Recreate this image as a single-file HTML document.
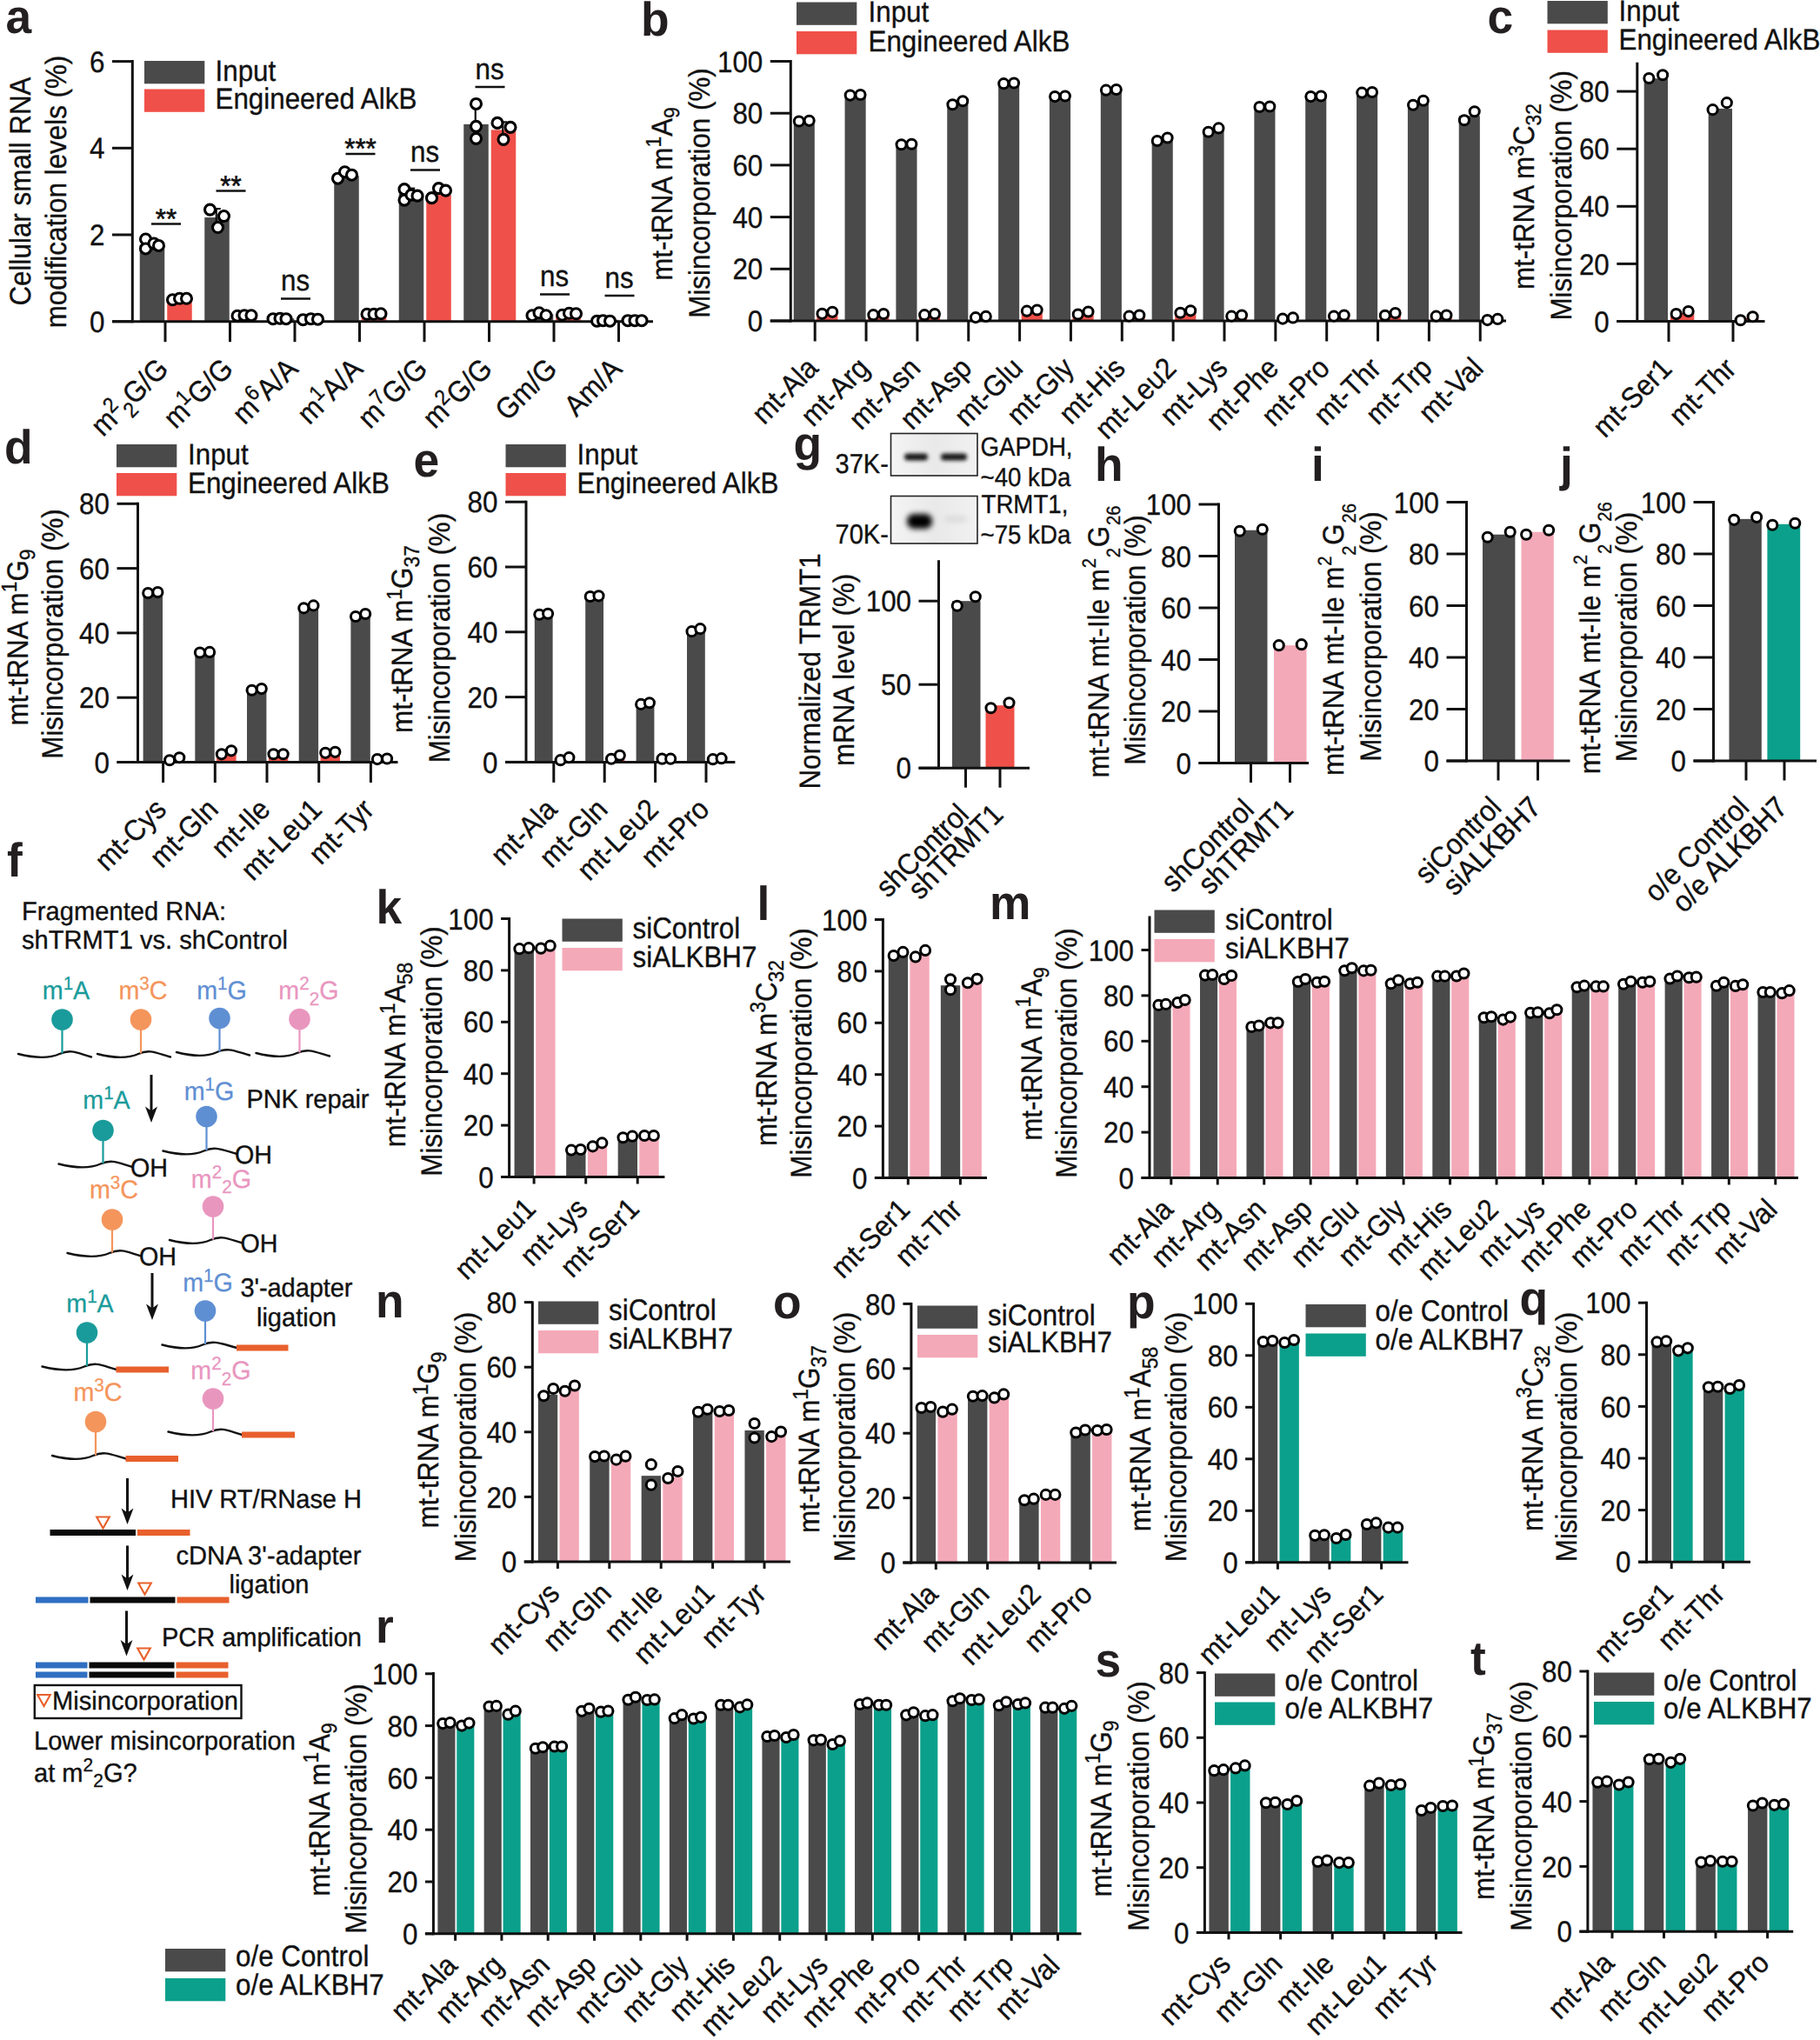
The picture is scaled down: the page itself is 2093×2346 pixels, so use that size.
<!DOCTYPE html>
<html lang="en"><head><meta charset="utf-8"><title>Figure</title>
<style>html,body{margin:0;padding:0;background:#fff}body{width:2093px;height:2346px;overflow:hidden}svg{display:block}</style>
</head><body>
<svg width="2093" height="2346" viewBox="0 0 2093 2346" font-family="'Liberation Sans', sans-serif" text-rendering="geometricPrecision">
<rect x="0.00" y="0.00" width="2093.00" height="2346.00" fill="#fff"/>
<g>
<text transform="translate(6.50 37.50) scale(0.97 1)" font-size="55.00" text-anchor="start" fill="#231f20" font-weight="bold">a</text>
<rect x="160.75" y="281.47" width="28.50" height="88.23" fill="#4a4a4a"/>
<rect x="192.25" y="344.77" width="28.50" height="24.93" fill="#ef5049"/>
<rect x="235.25" y="250.06" width="28.50" height="119.64" fill="#4a4a4a"/>
<rect x="266.75" y="363.22" width="28.50" height="6.48" fill="#ef5049"/>
<rect x="309.75" y="366.21" width="28.50" height="3.49" fill="#4a4a4a"/>
<rect x="341.25" y="366.21" width="28.50" height="3.49" fill="#ef5049"/>
<rect x="384.25" y="202.20" width="28.50" height="167.50" fill="#4a4a4a"/>
<rect x="415.75" y="362.22" width="28.50" height="7.48" fill="#ef5049"/>
<rect x="458.75" y="222.64" width="28.50" height="147.06" fill="#4a4a4a"/>
<rect x="490.25" y="224.14" width="28.50" height="145.56" fill="#ef5049"/>
<rect x="533.25" y="142.88" width="28.50" height="226.82" fill="#4a4a4a"/>
<rect x="564.75" y="149.36" width="28.50" height="220.34" fill="#ef5049"/>
<rect x="607.75" y="361.23" width="28.50" height="8.47" fill="#4a4a4a"/>
<rect x="639.25" y="361.23" width="28.50" height="8.47" fill="#ef5049"/>
<rect x="682.25" y="367.71" width="28.50" height="1.99" fill="#4a4a4a"/>
<rect x="713.75" y="367.71" width="28.50" height="1.99" fill="#ef5049"/>
<line x1="152.30" y1="69.00" x2="152.30" y2="371.20" stroke="#111" stroke-width="3" stroke-linecap="butt"/>
<line x1="129.00" y1="369.70" x2="751.00" y2="369.70" stroke="#111" stroke-width="3" stroke-linecap="butt"/>
<line x1="129.00" y1="369.70" x2="152.30" y2="369.70" stroke="#111" stroke-width="3" stroke-linecap="butt"/>
<text transform="translate(120.50 381.87) scale(0.922 1)" font-size="34.00" text-anchor="end" fill="#111" stroke="#111" stroke-width="0.35">0</text>
<line x1="129.00" y1="270.00" x2="152.30" y2="270.00" stroke="#111" stroke-width="3" stroke-linecap="butt"/>
<text transform="translate(120.50 282.17) scale(0.922 1)" font-size="34.00" text-anchor="end" fill="#111" stroke="#111" stroke-width="0.35">2</text>
<line x1="129.00" y1="170.30" x2="152.30" y2="170.30" stroke="#111" stroke-width="3" stroke-linecap="butt"/>
<text transform="translate(120.50 182.47) scale(0.922 1)" font-size="34.00" text-anchor="end" fill="#111" stroke="#111" stroke-width="0.35">4</text>
<line x1="129.00" y1="70.60" x2="152.30" y2="70.60" stroke="#111" stroke-width="3" stroke-linecap="butt"/>
<text transform="translate(120.50 82.77) scale(0.922 1)" font-size="34.00" text-anchor="end" fill="#111" stroke="#111" stroke-width="0.35">6</text>
<line x1="190.00" y1="369.70" x2="190.00" y2="393.20" stroke="#111" stroke-width="3" stroke-linecap="butt"/>
<line x1="264.50" y1="369.70" x2="264.50" y2="393.20" stroke="#111" stroke-width="3" stroke-linecap="butt"/>
<line x1="339.00" y1="369.70" x2="339.00" y2="393.20" stroke="#111" stroke-width="3" stroke-linecap="butt"/>
<line x1="413.50" y1="369.70" x2="413.50" y2="393.20" stroke="#111" stroke-width="3" stroke-linecap="butt"/>
<line x1="488.00" y1="369.70" x2="488.00" y2="393.20" stroke="#111" stroke-width="3" stroke-linecap="butt"/>
<line x1="562.50" y1="369.70" x2="562.50" y2="393.20" stroke="#111" stroke-width="3" stroke-linecap="butt"/>
<line x1="637.00" y1="369.70" x2="637.00" y2="393.20" stroke="#111" stroke-width="3" stroke-linecap="butt"/>
<line x1="711.50" y1="369.70" x2="711.50" y2="393.20" stroke="#111" stroke-width="3" stroke-linecap="butt"/>
<line x1="248.75" y1="240.09" x2="248.75" y2="260.03" stroke="#111" stroke-width="2.2" stroke-linecap="butt"/>
<line x1="243.75" y1="240.09" x2="253.75" y2="240.09" stroke="#111" stroke-width="2.2" stroke-linecap="butt"/>
<line x1="243.75" y1="260.03" x2="253.75" y2="260.03" stroke="#111" stroke-width="2.2" stroke-linecap="butt"/>
<line x1="546.75" y1="119.45" x2="546.75" y2="161.33" stroke="#111" stroke-width="2.2" stroke-linecap="butt"/>
<line x1="541.75" y1="119.45" x2="551.75" y2="119.45" stroke="#111" stroke-width="2.2" stroke-linecap="butt"/>
<line x1="541.75" y1="161.33" x2="551.75" y2="161.33" stroke="#111" stroke-width="2.2" stroke-linecap="butt"/>
<line x1="578.25" y1="140.39" x2="578.25" y2="158.34" stroke="#111" stroke-width="2.2" stroke-linecap="butt"/>
<line x1="573.25" y1="140.39" x2="583.25" y2="140.39" stroke="#111" stroke-width="2.2" stroke-linecap="butt"/>
<line x1="573.25" y1="158.34" x2="583.25" y2="158.34" stroke="#111" stroke-width="2.2" stroke-linecap="butt"/>
<line x1="174.25" y1="276.48" x2="174.25" y2="286.45" stroke="#111" stroke-width="2.2" stroke-linecap="butt"/>
<line x1="169.25" y1="276.48" x2="179.25" y2="276.48" stroke="#111" stroke-width="2.2" stroke-linecap="butt"/>
<line x1="169.25" y1="286.45" x2="179.25" y2="286.45" stroke="#111" stroke-width="2.2" stroke-linecap="butt"/>
<line x1="472.25" y1="216.66" x2="472.25" y2="228.62" stroke="#111" stroke-width="2.2" stroke-linecap="butt"/>
<line x1="467.25" y1="216.66" x2="477.25" y2="216.66" stroke="#111" stroke-width="2.2" stroke-linecap="butt"/>
<line x1="467.25" y1="228.62" x2="477.25" y2="228.62" stroke="#111" stroke-width="2.2" stroke-linecap="butt"/>
<circle cx="167.50" cy="274.99" r="6.00" fill="#fff" stroke="#000" stroke-width="3.1"/>
<circle cx="167.50" cy="285.95" r="6.00" fill="#fff" stroke="#000" stroke-width="3.1"/>
<circle cx="177.00" cy="279.97" r="6.00" fill="#fff" stroke="#000" stroke-width="3.1"/>
<circle cx="182.50" cy="282.46" r="6.00" fill="#fff" stroke="#000" stroke-width="3.1"/>
<circle cx="198.50" cy="344.77" r="6.00" fill="#fff" stroke="#000" stroke-width="3.1"/>
<circle cx="206.50" cy="343.28" r="6.00" fill="#fff" stroke="#000" stroke-width="3.1"/>
<circle cx="214.50" cy="343.28" r="6.00" fill="#fff" stroke="#000" stroke-width="3.1"/>
<circle cx="241.50" cy="241.09" r="6.00" fill="#fff" stroke="#000" stroke-width="3.1"/>
<circle cx="250.50" cy="261.53" r="6.00" fill="#fff" stroke="#000" stroke-width="3.1"/>
<circle cx="257.50" cy="248.56" r="6.00" fill="#fff" stroke="#000" stroke-width="3.1"/>
<circle cx="273.00" cy="363.22" r="6.00" fill="#fff" stroke="#000" stroke-width="3.1"/>
<circle cx="281.00" cy="362.72" r="6.00" fill="#fff" stroke="#000" stroke-width="3.1"/>
<circle cx="289.00" cy="362.72" r="6.00" fill="#fff" stroke="#000" stroke-width="3.1"/>
<circle cx="314.00" cy="366.71" r="6.00" fill="#fff" stroke="#000" stroke-width="3.1"/>
<circle cx="322.00" cy="366.21" r="6.00" fill="#fff" stroke="#000" stroke-width="3.1"/>
<circle cx="329.00" cy="366.71" r="6.00" fill="#fff" stroke="#000" stroke-width="3.1"/>
<circle cx="348.50" cy="367.71" r="6.00" fill="#fff" stroke="#000" stroke-width="3.1"/>
<circle cx="357.50" cy="366.71" r="6.00" fill="#fff" stroke="#000" stroke-width="3.1"/>
<circle cx="365.50" cy="367.21" r="6.00" fill="#fff" stroke="#000" stroke-width="3.1"/>
<circle cx="388.50" cy="205.19" r="6.00" fill="#fff" stroke="#000" stroke-width="3.1"/>
<circle cx="396.50" cy="197.72" r="6.00" fill="#fff" stroke="#000" stroke-width="3.1"/>
<circle cx="404.50" cy="201.21" r="6.00" fill="#fff" stroke="#000" stroke-width="3.1"/>
<circle cx="422.00" cy="361.23" r="6.00" fill="#fff" stroke="#000" stroke-width="3.1"/>
<circle cx="430.00" cy="361.23" r="6.00" fill="#fff" stroke="#000" stroke-width="3.1"/>
<circle cx="438.00" cy="360.73" r="6.00" fill="#fff" stroke="#000" stroke-width="3.1"/>
<circle cx="465.00" cy="217.66" r="6.00" fill="#fff" stroke="#000" stroke-width="3.1"/>
<circle cx="465.00" cy="230.12" r="6.00" fill="#fff" stroke="#000" stroke-width="3.1"/>
<circle cx="473.00" cy="224.14" r="6.00" fill="#fff" stroke="#000" stroke-width="3.1"/>
<circle cx="480.00" cy="225.13" r="6.00" fill="#fff" stroke="#000" stroke-width="3.1"/>
<circle cx="496.50" cy="227.63" r="6.00" fill="#fff" stroke="#000" stroke-width="3.1"/>
<circle cx="504.50" cy="216.66" r="6.00" fill="#fff" stroke="#000" stroke-width="3.1"/>
<circle cx="512.50" cy="219.15" r="6.00" fill="#fff" stroke="#000" stroke-width="3.1"/>
<circle cx="547.50" cy="119.45" r="6.00" fill="#fff" stroke="#000" stroke-width="3.1"/>
<circle cx="547.50" cy="145.37" r="6.00" fill="#fff" stroke="#000" stroke-width="3.1"/>
<circle cx="547.50" cy="159.33" r="6.00" fill="#fff" stroke="#000" stroke-width="3.1"/>
<circle cx="572.00" cy="141.39" r="6.00" fill="#fff" stroke="#000" stroke-width="3.1"/>
<circle cx="579.00" cy="160.33" r="6.00" fill="#fff" stroke="#000" stroke-width="3.1"/>
<circle cx="587.00" cy="146.37" r="6.00" fill="#fff" stroke="#000" stroke-width="3.1"/>
<circle cx="612.00" cy="362.72" r="6.00" fill="#fff" stroke="#000" stroke-width="3.1"/>
<circle cx="620.00" cy="359.73" r="6.00" fill="#fff" stroke="#000" stroke-width="3.1"/>
<circle cx="628.00" cy="362.72" r="6.00" fill="#fff" stroke="#000" stroke-width="3.1"/>
<circle cx="646.50" cy="362.22" r="6.00" fill="#fff" stroke="#000" stroke-width="3.1"/>
<circle cx="654.50" cy="360.23" r="6.00" fill="#fff" stroke="#000" stroke-width="3.1"/>
<circle cx="662.50" cy="360.73" r="6.00" fill="#fff" stroke="#000" stroke-width="3.1"/>
<circle cx="686.50" cy="369.20" r="6.00" fill="#fff" stroke="#000" stroke-width="3.1"/>
<circle cx="693.50" cy="368.70" r="6.00" fill="#fff" stroke="#000" stroke-width="3.1"/>
<circle cx="701.50" cy="369.20" r="6.00" fill="#fff" stroke="#000" stroke-width="3.1"/>
<circle cx="722.00" cy="368.70" r="6.00" fill="#fff" stroke="#000" stroke-width="3.1"/>
<circle cx="730.00" cy="368.70" r="6.00" fill="#fff" stroke="#000" stroke-width="3.1"/>
<circle cx="738.00" cy="368.70" r="6.00" fill="#fff" stroke="#000" stroke-width="3.1"/>
<line x1="174.00" y1="257.50" x2="208.00" y2="257.50" stroke="#111" stroke-width="2.6" stroke-linecap="butt"/>
<text transform="translate(191.00 262.50) scale(0.95 1)" font-size="33.00" text-anchor="middle" fill="#111" stroke="#111" stroke-width="0.6">**</text>
<line x1="248.50" y1="219.50" x2="282.50" y2="219.50" stroke="#111" stroke-width="2.6" stroke-linecap="butt"/>
<text transform="translate(265.50 224.50) scale(0.95 1)" font-size="33.00" text-anchor="middle" fill="#111" stroke="#111" stroke-width="0.6">**</text>
<line x1="323.00" y1="343.50" x2="357.00" y2="343.50" stroke="#111" stroke-width="2.6" stroke-linecap="butt"/>
<text transform="translate(339.50 334.00) scale(0.922 1)" font-size="34.00" text-anchor="middle" fill="#111" stroke="#111" stroke-width="0.35">ns</text>
<line x1="397.50" y1="177.00" x2="431.50" y2="177.00" stroke="#111" stroke-width="2.6" stroke-linecap="butt"/>
<text transform="translate(414.50 182.00) scale(0.95 1)" font-size="33.00" text-anchor="middle" fill="#111" stroke="#111" stroke-width="0.6">***</text>
<line x1="472.00" y1="195.50" x2="506.00" y2="195.50" stroke="#111" stroke-width="2.6" stroke-linecap="butt"/>
<text transform="translate(488.50 186.00) scale(0.922 1)" font-size="34.00" text-anchor="middle" fill="#111" stroke="#111" stroke-width="0.35">ns</text>
<line x1="546.50" y1="100.00" x2="580.50" y2="100.00" stroke="#111" stroke-width="2.6" stroke-linecap="butt"/>
<text transform="translate(563.00 90.50) scale(0.922 1)" font-size="34.00" text-anchor="middle" fill="#111" stroke="#111" stroke-width="0.35">ns</text>
<line x1="621.00" y1="338.50" x2="655.00" y2="338.50" stroke="#111" stroke-width="2.6" stroke-linecap="butt"/>
<text transform="translate(637.50 329.00) scale(0.922 1)" font-size="34.00" text-anchor="middle" fill="#111" stroke="#111" stroke-width="0.35">ns</text>
<line x1="695.50" y1="340.00" x2="729.50" y2="340.00" stroke="#111" stroke-width="2.6" stroke-linecap="butt"/>
<text transform="translate(712.00 330.50) scale(0.922 1)" font-size="34.00" text-anchor="middle" fill="#111" stroke="#111" stroke-width="0.35">ns</text>
<rect x="166.00" y="70.00" width="69.30" height="26.30" fill="#4a4a4a"/>
<rect x="166.00" y="102.50" width="69.30" height="26.30" fill="#ef5049"/>
<text transform="translate(247.50 92.50) scale(0.922 1)" font-size="34.00" text-anchor="start" fill="#111" stroke="#111" stroke-width="0.35">Input</text>
<text transform="translate(247.50 125.00) scale(0.922 1)" font-size="34.00" text-anchor="start" fill="#111" stroke="#111" stroke-width="0.35">Engineered AlkB</text>
<text transform="translate(35.20 220.00) rotate(-90) scale(0.922 1)" font-size="34.00" text-anchor="middle" fill="#111" stroke="#111" stroke-width="0.35">Cellular small RNA</text>
<text transform="translate(76.00 220.50) rotate(-90) scale(0.922 1)" font-size="34.00" text-anchor="middle" fill="#111" stroke="#111" stroke-width="0.35">modification levels (%)</text>
<text transform="translate(195.50 426.20) rotate(-45) scale(0.922 1)" font-size="34.00" text-anchor="end" fill="#111" stroke="#111" stroke-width="0.35"><tspan dy="-0.00" font-size="34.00">m</tspan><tspan dy="-12.24" font-size="24.82">2</tspan><tspan dy="20.74" font-size="24.82">2</tspan><tspan dy="-8.50" font-size="34.00">G/G</tspan></text>
<text transform="translate(270.00 426.20) rotate(-45) scale(0.922 1)" font-size="34.00" text-anchor="end" fill="#111" stroke="#111" stroke-width="0.35"><tspan dy="-0.00" font-size="34.00">m</tspan><tspan dy="-12.24" font-size="24.82">1</tspan><tspan dy="12.24" font-size="34.00">G/G</tspan></text>
<text transform="translate(344.50 426.20) rotate(-45) scale(0.922 1)" font-size="34.00" text-anchor="end" fill="#111" stroke="#111" stroke-width="0.35"><tspan dy="-0.00" font-size="34.00">m</tspan><tspan dy="-12.24" font-size="24.82">6</tspan><tspan dy="12.24" font-size="34.00">A/A</tspan></text>
<text transform="translate(419.00 426.20) rotate(-45) scale(0.922 1)" font-size="34.00" text-anchor="end" fill="#111" stroke="#111" stroke-width="0.35"><tspan dy="-0.00" font-size="34.00">m</tspan><tspan dy="-12.24" font-size="24.82">1</tspan><tspan dy="12.24" font-size="34.00">A/A</tspan></text>
<text transform="translate(493.50 426.20) rotate(-45) scale(0.922 1)" font-size="34.00" text-anchor="end" fill="#111" stroke="#111" stroke-width="0.35"><tspan dy="-0.00" font-size="34.00">m</tspan><tspan dy="-12.24" font-size="24.82">7</tspan><tspan dy="12.24" font-size="34.00">G/G</tspan></text>
<text transform="translate(568.00 426.20) rotate(-45) scale(0.922 1)" font-size="34.00" text-anchor="end" fill="#111" stroke="#111" stroke-width="0.35"><tspan dy="-0.00" font-size="34.00">m</tspan><tspan dy="-12.24" font-size="24.82">2</tspan><tspan dy="12.24" font-size="34.00">G/G</tspan></text>
<text transform="translate(642.50 426.20) rotate(-45) scale(0.922 1)" font-size="34.00" text-anchor="end" fill="#111" stroke="#111" stroke-width="0.35">Gm/G</text>
<text transform="translate(717.00 426.20) rotate(-45) scale(0.922 1)" font-size="34.00" text-anchor="end" fill="#111" stroke="#111" stroke-width="0.35">Am/A</text>
</g>
<g>
<text transform="translate(737.00 41.00) scale(0.97 1)" font-size="55.00" text-anchor="start" fill="#231f20" font-weight="bold">b</text>
<rect x="912.70" y="139.16" width="24.10" height="229.84" fill="#4a4a4a"/>
<rect x="939.30" y="360.05" width="24.10" height="8.96" fill="#ef5049"/>
<rect x="971.55" y="109.31" width="24.10" height="259.69" fill="#4a4a4a"/>
<rect x="998.15" y="361.54" width="24.10" height="7.46" fill="#ef5049"/>
<rect x="1030.40" y="166.02" width="24.10" height="202.98" fill="#4a4a4a"/>
<rect x="1057.00" y="361.54" width="24.10" height="7.46" fill="#ef5049"/>
<rect x="1089.25" y="118.26" width="24.10" height="250.74" fill="#4a4a4a"/>
<rect x="1115.85" y="364.52" width="24.10" height="4.48" fill="#ef5049"/>
<rect x="1148.10" y="95.87" width="24.10" height="273.13" fill="#4a4a4a"/>
<rect x="1174.70" y="357.06" width="24.10" height="11.94" fill="#ef5049"/>
<rect x="1206.95" y="110.80" width="24.10" height="258.20" fill="#4a4a4a"/>
<rect x="1233.55" y="360.05" width="24.10" height="8.96" fill="#ef5049"/>
<rect x="1265.80" y="103.34" width="24.10" height="265.66" fill="#4a4a4a"/>
<rect x="1292.40" y="363.03" width="24.10" height="5.97" fill="#ef5049"/>
<rect x="1324.65" y="160.05" width="24.10" height="208.95" fill="#4a4a4a"/>
<rect x="1351.25" y="358.55" width="24.10" height="10.45" fill="#ef5049"/>
<rect x="1383.50" y="149.60" width="24.10" height="219.40" fill="#4a4a4a"/>
<rect x="1410.10" y="363.03" width="24.10" height="5.97" fill="#ef5049"/>
<rect x="1442.35" y="122.74" width="24.10" height="246.26" fill="#4a4a4a"/>
<rect x="1468.95" y="366.01" width="24.10" height="2.98" fill="#ef5049"/>
<rect x="1501.20" y="110.80" width="24.10" height="258.20" fill="#4a4a4a"/>
<rect x="1527.80" y="363.03" width="24.10" height="5.97" fill="#ef5049"/>
<rect x="1560.05" y="106.32" width="24.10" height="262.68" fill="#4a4a4a"/>
<rect x="1586.65" y="361.54" width="24.10" height="7.46" fill="#ef5049"/>
<rect x="1618.90" y="118.26" width="24.10" height="250.74" fill="#4a4a4a"/>
<rect x="1645.50" y="363.03" width="24.10" height="5.97" fill="#ef5049"/>
<rect x="1677.75" y="133.19" width="24.10" height="235.81" fill="#4a4a4a"/>
<rect x="1704.35" y="367.51" width="24.10" height="1.49" fill="#ef5049"/>
<line x1="909.30" y1="69.00" x2="909.30" y2="370.50" stroke="#111" stroke-width="3" stroke-linecap="butt"/>
<line x1="885.80" y1="369.00" x2="1732.00" y2="369.00" stroke="#111" stroke-width="3" stroke-linecap="butt"/>
<line x1="885.80" y1="369.00" x2="909.30" y2="369.00" stroke="#111" stroke-width="3" stroke-linecap="butt"/>
<text transform="translate(877.30 381.17) scale(0.922 1)" font-size="34.00" text-anchor="end" fill="#111" stroke="#111" stroke-width="0.35">0</text>
<line x1="885.80" y1="309.30" x2="909.30" y2="309.30" stroke="#111" stroke-width="3" stroke-linecap="butt"/>
<text transform="translate(877.30 321.47) scale(0.922 1)" font-size="34.00" text-anchor="end" fill="#111" stroke="#111" stroke-width="0.35">20</text>
<line x1="885.80" y1="249.60" x2="909.30" y2="249.60" stroke="#111" stroke-width="3" stroke-linecap="butt"/>
<text transform="translate(877.30 261.77) scale(0.922 1)" font-size="34.00" text-anchor="end" fill="#111" stroke="#111" stroke-width="0.35">40</text>
<line x1="885.80" y1="189.90" x2="909.30" y2="189.90" stroke="#111" stroke-width="3" stroke-linecap="butt"/>
<text transform="translate(877.30 202.07) scale(0.922 1)" font-size="34.00" text-anchor="end" fill="#111" stroke="#111" stroke-width="0.35">60</text>
<line x1="885.80" y1="130.20" x2="909.30" y2="130.20" stroke="#111" stroke-width="3" stroke-linecap="butt"/>
<text transform="translate(877.30 142.37) scale(0.922 1)" font-size="34.00" text-anchor="end" fill="#111" stroke="#111" stroke-width="0.35">80</text>
<line x1="885.80" y1="70.50" x2="909.30" y2="70.50" stroke="#111" stroke-width="3" stroke-linecap="butt"/>
<text transform="translate(877.30 82.67) scale(0.922 1)" font-size="34.00" text-anchor="end" fill="#111" stroke="#111" stroke-width="0.35">100</text>
<line x1="937.20" y1="369.00" x2="937.20" y2="392.50" stroke="#111" stroke-width="3" stroke-linecap="butt"/>
<line x1="996.05" y1="369.00" x2="996.05" y2="392.50" stroke="#111" stroke-width="3" stroke-linecap="butt"/>
<line x1="1054.90" y1="369.00" x2="1054.90" y2="392.50" stroke="#111" stroke-width="3" stroke-linecap="butt"/>
<line x1="1113.75" y1="369.00" x2="1113.75" y2="392.50" stroke="#111" stroke-width="3" stroke-linecap="butt"/>
<line x1="1172.60" y1="369.00" x2="1172.60" y2="392.50" stroke="#111" stroke-width="3" stroke-linecap="butt"/>
<line x1="1231.45" y1="369.00" x2="1231.45" y2="392.50" stroke="#111" stroke-width="3" stroke-linecap="butt"/>
<line x1="1290.30" y1="369.00" x2="1290.30" y2="392.50" stroke="#111" stroke-width="3" stroke-linecap="butt"/>
<line x1="1349.15" y1="369.00" x2="1349.15" y2="392.50" stroke="#111" stroke-width="3" stroke-linecap="butt"/>
<line x1="1408.00" y1="369.00" x2="1408.00" y2="392.50" stroke="#111" stroke-width="3" stroke-linecap="butt"/>
<line x1="1466.85" y1="369.00" x2="1466.85" y2="392.50" stroke="#111" stroke-width="3" stroke-linecap="butt"/>
<line x1="1525.70" y1="369.00" x2="1525.70" y2="392.50" stroke="#111" stroke-width="3" stroke-linecap="butt"/>
<line x1="1584.55" y1="369.00" x2="1584.55" y2="392.50" stroke="#111" stroke-width="3" stroke-linecap="butt"/>
<line x1="1643.40" y1="369.00" x2="1643.40" y2="392.50" stroke="#111" stroke-width="3" stroke-linecap="butt"/>
<line x1="1702.25" y1="369.00" x2="1702.25" y2="392.50" stroke="#111" stroke-width="3" stroke-linecap="butt"/>
<circle cx="918.85" cy="139.46" r="5.55" fill="#fff" stroke="#000" stroke-width="3"/>
<circle cx="930.65" cy="138.85" r="5.55" fill="#fff" stroke="#000" stroke-width="3"/>
<circle cx="945.45" cy="360.85" r="5.55" fill="#fff" stroke="#000" stroke-width="3"/>
<circle cx="957.25" cy="358.85" r="5.55" fill="#fff" stroke="#000" stroke-width="3"/>
<circle cx="977.70" cy="109.61" r="5.55" fill="#fff" stroke="#000" stroke-width="3"/>
<circle cx="989.50" cy="109.01" r="5.55" fill="#fff" stroke="#000" stroke-width="3"/>
<circle cx="1004.30" cy="362.14" r="5.55" fill="#fff" stroke="#000" stroke-width="3"/>
<circle cx="1016.10" cy="360.94" r="5.55" fill="#fff" stroke="#000" stroke-width="3"/>
<circle cx="1036.55" cy="166.32" r="5.55" fill="#fff" stroke="#000" stroke-width="3"/>
<circle cx="1048.35" cy="165.72" r="5.55" fill="#fff" stroke="#000" stroke-width="3"/>
<circle cx="1063.15" cy="362.14" r="5.55" fill="#fff" stroke="#000" stroke-width="3"/>
<circle cx="1074.95" cy="360.94" r="5.55" fill="#fff" stroke="#000" stroke-width="3"/>
<circle cx="1095.40" cy="120.26" r="5.55" fill="#fff" stroke="#000" stroke-width="3"/>
<circle cx="1107.20" cy="116.26" r="5.55" fill="#fff" stroke="#000" stroke-width="3"/>
<circle cx="1122.00" cy="365.12" r="5.55" fill="#fff" stroke="#000" stroke-width="3"/>
<circle cx="1133.80" cy="363.92" r="5.55" fill="#fff" stroke="#000" stroke-width="3"/>
<circle cx="1154.25" cy="96.17" r="5.55" fill="#fff" stroke="#000" stroke-width="3"/>
<circle cx="1166.05" cy="95.57" r="5.55" fill="#fff" stroke="#000" stroke-width="3"/>
<circle cx="1180.85" cy="357.66" r="5.55" fill="#fff" stroke="#000" stroke-width="3"/>
<circle cx="1192.65" cy="356.46" r="5.55" fill="#fff" stroke="#000" stroke-width="3"/>
<circle cx="1213.10" cy="111.10" r="5.55" fill="#fff" stroke="#000" stroke-width="3"/>
<circle cx="1224.90" cy="110.50" r="5.55" fill="#fff" stroke="#000" stroke-width="3"/>
<circle cx="1239.70" cy="361.55" r="5.55" fill="#fff" stroke="#000" stroke-width="3"/>
<circle cx="1251.50" cy="358.55" r="5.55" fill="#fff" stroke="#000" stroke-width="3"/>
<circle cx="1271.95" cy="103.64" r="5.55" fill="#fff" stroke="#000" stroke-width="3"/>
<circle cx="1283.75" cy="103.04" r="5.55" fill="#fff" stroke="#000" stroke-width="3"/>
<circle cx="1298.55" cy="363.63" r="5.55" fill="#fff" stroke="#000" stroke-width="3"/>
<circle cx="1310.35" cy="362.43" r="5.55" fill="#fff" stroke="#000" stroke-width="3"/>
<circle cx="1330.80" cy="162.05" r="5.55" fill="#fff" stroke="#000" stroke-width="3"/>
<circle cx="1342.60" cy="158.55" r="5.55" fill="#fff" stroke="#000" stroke-width="3"/>
<circle cx="1357.40" cy="359.75" r="5.55" fill="#fff" stroke="#000" stroke-width="3"/>
<circle cx="1369.20" cy="357.35" r="5.55" fill="#fff" stroke="#000" stroke-width="3"/>
<circle cx="1389.65" cy="151.80" r="5.55" fill="#fff" stroke="#000" stroke-width="3"/>
<circle cx="1401.45" cy="147.40" r="5.55" fill="#fff" stroke="#000" stroke-width="3"/>
<circle cx="1416.25" cy="363.63" r="5.55" fill="#fff" stroke="#000" stroke-width="3"/>
<circle cx="1428.05" cy="362.43" r="5.55" fill="#fff" stroke="#000" stroke-width="3"/>
<circle cx="1448.50" cy="123.04" r="5.55" fill="#fff" stroke="#000" stroke-width="3"/>
<circle cx="1460.30" cy="122.44" r="5.55" fill="#fff" stroke="#000" stroke-width="3"/>
<circle cx="1475.10" cy="366.62" r="5.55" fill="#fff" stroke="#000" stroke-width="3"/>
<circle cx="1486.90" cy="365.41" r="5.55" fill="#fff" stroke="#000" stroke-width="3"/>
<circle cx="1507.35" cy="111.10" r="5.55" fill="#fff" stroke="#000" stroke-width="3"/>
<circle cx="1519.15" cy="110.50" r="5.55" fill="#fff" stroke="#000" stroke-width="3"/>
<circle cx="1533.95" cy="363.63" r="5.55" fill="#fff" stroke="#000" stroke-width="3"/>
<circle cx="1545.75" cy="362.43" r="5.55" fill="#fff" stroke="#000" stroke-width="3"/>
<circle cx="1566.20" cy="106.62" r="5.55" fill="#fff" stroke="#000" stroke-width="3"/>
<circle cx="1578.00" cy="106.02" r="5.55" fill="#fff" stroke="#000" stroke-width="3"/>
<circle cx="1592.80" cy="362.74" r="5.55" fill="#fff" stroke="#000" stroke-width="3"/>
<circle cx="1604.60" cy="360.04" r="5.55" fill="#fff" stroke="#000" stroke-width="3"/>
<circle cx="1625.05" cy="120.76" r="5.55" fill="#fff" stroke="#000" stroke-width="3"/>
<circle cx="1636.85" cy="115.76" r="5.55" fill="#fff" stroke="#000" stroke-width="3"/>
<circle cx="1651.65" cy="363.63" r="5.55" fill="#fff" stroke="#000" stroke-width="3"/>
<circle cx="1663.45" cy="362.43" r="5.55" fill="#fff" stroke="#000" stroke-width="3"/>
<circle cx="1683.90" cy="138.19" r="5.55" fill="#fff" stroke="#000" stroke-width="3"/>
<circle cx="1695.70" cy="128.19" r="5.55" fill="#fff" stroke="#000" stroke-width="3"/>
<circle cx="1710.50" cy="368.11" r="5.55" fill="#fff" stroke="#000" stroke-width="3"/>
<circle cx="1722.30" cy="366.91" r="5.55" fill="#fff" stroke="#000" stroke-width="3"/>
<rect x="916.00" y="2.50" width="69.30" height="26.30" fill="#4a4a4a"/>
<rect x="916.00" y="36.00" width="69.30" height="26.30" fill="#ef5049"/>
<text transform="translate(998.50 25.00) scale(0.922 1)" font-size="34.00" text-anchor="start" fill="#111" stroke="#111" stroke-width="0.35">Input</text>
<text transform="translate(998.50 58.50) scale(0.922 1)" font-size="34.00" text-anchor="start" fill="#111" stroke="#111" stroke-width="0.35">Engineered AlkB</text>
<text transform="translate(772.50 223.00) rotate(-90) scale(0.922 1)" font-size="34.00" text-anchor="middle" fill="#111" stroke="#111" stroke-width="0.35"><tspan dy="-0.00" font-size="34.00">mt-tRNA m</tspan><tspan dy="-12.24" font-size="24.82">1</tspan><tspan dy="12.24" font-size="34.00">A</tspan><tspan dy="8.50" font-size="24.82">9</tspan></text>
<text transform="translate(816.00 222.00) rotate(-90) scale(0.922 1)" font-size="34.00" text-anchor="middle" fill="#111" stroke="#111" stroke-width="0.35">Misincorporation (%)</text>
<text transform="translate(942.70 425.50) rotate(-45) scale(0.922 1)" font-size="34.00" text-anchor="end" fill="#111" stroke="#111" stroke-width="0.35">mt-Ala</text>
<text transform="translate(1001.55 425.50) rotate(-45) scale(0.922 1)" font-size="34.00" text-anchor="end" fill="#111" stroke="#111" stroke-width="0.35">mt-Arg</text>
<text transform="translate(1060.40 425.50) rotate(-45) scale(0.922 1)" font-size="34.00" text-anchor="end" fill="#111" stroke="#111" stroke-width="0.35">mt-Asn</text>
<text transform="translate(1119.25 425.50) rotate(-45) scale(0.922 1)" font-size="34.00" text-anchor="end" fill="#111" stroke="#111" stroke-width="0.35">mt-Asp</text>
<text transform="translate(1178.10 425.50) rotate(-45) scale(0.922 1)" font-size="34.00" text-anchor="end" fill="#111" stroke="#111" stroke-width="0.35">mt-Glu</text>
<text transform="translate(1236.95 425.50) rotate(-45) scale(0.922 1)" font-size="34.00" text-anchor="end" fill="#111" stroke="#111" stroke-width="0.35">mt-Gly</text>
<text transform="translate(1295.80 425.50) rotate(-45) scale(0.922 1)" font-size="34.00" text-anchor="end" fill="#111" stroke="#111" stroke-width="0.35">mt-His</text>
<text transform="translate(1354.65 425.50) rotate(-45) scale(0.922 1)" font-size="34.00" text-anchor="end" fill="#111" stroke="#111" stroke-width="0.35">mt-Leu2</text>
<text transform="translate(1413.50 425.50) rotate(-45) scale(0.922 1)" font-size="34.00" text-anchor="end" fill="#111" stroke="#111" stroke-width="0.35">mt-Lys</text>
<text transform="translate(1472.35 425.50) rotate(-45) scale(0.922 1)" font-size="34.00" text-anchor="end" fill="#111" stroke="#111" stroke-width="0.35">mt-Phe</text>
<text transform="translate(1531.20 425.50) rotate(-45) scale(0.922 1)" font-size="34.00" text-anchor="end" fill="#111" stroke="#111" stroke-width="0.35">mt-Pro</text>
<text transform="translate(1590.05 425.50) rotate(-45) scale(0.922 1)" font-size="34.00" text-anchor="end" fill="#111" stroke="#111" stroke-width="0.35">mt-Thr</text>
<text transform="translate(1648.90 425.50) rotate(-45) scale(0.922 1)" font-size="34.00" text-anchor="end" fill="#111" stroke="#111" stroke-width="0.35">mt-Trp</text>
<text transform="translate(1707.75 425.50) rotate(-45) scale(0.922 1)" font-size="34.00" text-anchor="end" fill="#111" stroke="#111" stroke-width="0.35">mt-Val</text>
</g>
<g>
<text transform="translate(1710.50 38.00) scale(0.97 1)" font-size="55.00" text-anchor="start" fill="#231f20" font-weight="bold">c</text>
<rect x="1890.70" y="90.23" width="27.30" height="279.27" fill="#4a4a4a"/>
<rect x="1921.00" y="359.58" width="27.30" height="9.92" fill="#ef5049"/>
<rect x="1964.70" y="124.93" width="27.30" height="244.57" fill="#4a4a4a"/>
<rect x="1995.00" y="366.19" width="27.30" height="3.31" fill="#ef5049"/>
<line x1="1882.80" y1="71.70" x2="1882.80" y2="371.00" stroke="#111" stroke-width="3" stroke-linecap="butt"/>
<line x1="1859.30" y1="369.50" x2="2029.50" y2="369.50" stroke="#111" stroke-width="3" stroke-linecap="butt"/>
<line x1="1859.30" y1="369.50" x2="1882.80" y2="369.50" stroke="#111" stroke-width="3" stroke-linecap="butt"/>
<text transform="translate(1850.80 381.67) scale(0.922 1)" font-size="34.00" text-anchor="end" fill="#111" stroke="#111" stroke-width="0.35">0</text>
<line x1="1859.30" y1="303.40" x2="1882.80" y2="303.40" stroke="#111" stroke-width="3" stroke-linecap="butt"/>
<text transform="translate(1850.80 315.57) scale(0.922 1)" font-size="34.00" text-anchor="end" fill="#111" stroke="#111" stroke-width="0.35">20</text>
<line x1="1859.30" y1="237.30" x2="1882.80" y2="237.30" stroke="#111" stroke-width="3" stroke-linecap="butt"/>
<text transform="translate(1850.80 249.47) scale(0.922 1)" font-size="34.00" text-anchor="end" fill="#111" stroke="#111" stroke-width="0.35">40</text>
<line x1="1859.30" y1="171.20" x2="1882.80" y2="171.20" stroke="#111" stroke-width="3" stroke-linecap="butt"/>
<text transform="translate(1850.80 183.37) scale(0.922 1)" font-size="34.00" text-anchor="end" fill="#111" stroke="#111" stroke-width="0.35">60</text>
<line x1="1859.30" y1="105.10" x2="1882.80" y2="105.10" stroke="#111" stroke-width="3" stroke-linecap="butt"/>
<text transform="translate(1850.80 117.27) scale(0.922 1)" font-size="34.00" text-anchor="end" fill="#111" stroke="#111" stroke-width="0.35">80</text>
<line x1="1919.00" y1="369.50" x2="1919.00" y2="393.00" stroke="#111" stroke-width="3" stroke-linecap="butt"/>
<line x1="1993.00" y1="369.50" x2="1993.00" y2="393.00" stroke="#111" stroke-width="3" stroke-linecap="butt"/>
<circle cx="1896.35" cy="89.93" r="5.55" fill="#fff" stroke="#000" stroke-width="3"/>
<circle cx="1912.10" cy="86.23" r="5.55" fill="#fff" stroke="#000" stroke-width="3"/>
<circle cx="1927.65" cy="361.08" r="5.55" fill="#fff" stroke="#000" stroke-width="3"/>
<circle cx="1941.65" cy="358.08" r="5.55" fill="#fff" stroke="#000" stroke-width="3"/>
<circle cx="1969.60" cy="126.13" r="5.55" fill="#fff" stroke="#000" stroke-width="3"/>
<circle cx="1985.85" cy="118.13" r="5.55" fill="#fff" stroke="#000" stroke-width="3"/>
<circle cx="2001.65" cy="368.19" r="5.55" fill="#fff" stroke="#000" stroke-width="3"/>
<circle cx="2015.65" cy="364.19" r="5.55" fill="#fff" stroke="#000" stroke-width="3"/>
<rect x="1779.50" y="1.00" width="69.30" height="26.30" fill="#4a4a4a"/>
<rect x="1779.50" y="34.50" width="69.30" height="26.30" fill="#ef5049"/>
<text transform="translate(1861.50 24.00) scale(0.922 1)" font-size="34.00" text-anchor="start" fill="#111" stroke="#111" stroke-width="0.35">Input</text>
<text transform="translate(1861.50 56.50) scale(0.922 1)" font-size="34.00" text-anchor="start" fill="#111" stroke="#111" stroke-width="0.35">Engineered AlkB</text>
<text transform="translate(1763.80 226.00) rotate(-90) scale(0.922 1)" font-size="34.00" text-anchor="middle" fill="#111" stroke="#111" stroke-width="0.35"><tspan dy="-0.00" font-size="34.00">mt-tRNA m</tspan><tspan dy="-12.24" font-size="24.82">3</tspan><tspan dy="12.24" font-size="34.00">C</tspan><tspan dy="8.50" font-size="24.82">32</tspan></text>
<text transform="translate(1806.80 224.80) rotate(-90) scale(0.922 1)" font-size="34.00" text-anchor="middle" fill="#111" stroke="#111" stroke-width="0.35">Misincorporation (%)</text>
<text transform="translate(1924.50 426.00) rotate(-45) scale(0.922 1)" font-size="34.00" text-anchor="end" fill="#111" stroke="#111" stroke-width="0.35">mt-Ser1</text>
<text transform="translate(1998.50 426.00) rotate(-45) scale(0.922 1)" font-size="34.00" text-anchor="end" fill="#111" stroke="#111" stroke-width="0.35">mt-Thr</text>
</g>
<g>
<text transform="translate(5.00 532.50) scale(0.97 1)" font-size="55.00" text-anchor="start" fill="#231f20" font-weight="bold">d</text>
<rect x="164.60" y="681.46" width="22.40" height="195.04" fill="#4a4a4a"/>
<rect x="189.50" y="872.78" width="22.40" height="3.71" fill="#ef5049"/>
<rect x="224.30" y="750.19" width="22.40" height="126.31" fill="#4a4a4a"/>
<rect x="249.20" y="865.36" width="22.40" height="11.14" fill="#ef5049"/>
<rect x="284.00" y="792.91" width="22.40" height="83.59" fill="#4a4a4a"/>
<rect x="308.90" y="867.21" width="22.40" height="9.29" fill="#ef5049"/>
<rect x="343.70" y="698.18" width="22.40" height="178.32" fill="#4a4a4a"/>
<rect x="368.60" y="865.36" width="22.40" height="11.14" fill="#ef5049"/>
<rect x="403.40" y="707.47" width="22.40" height="169.03" fill="#4a4a4a"/>
<rect x="428.30" y="872.78" width="22.40" height="3.71" fill="#ef5049"/>
<line x1="158.50" y1="577.80" x2="158.50" y2="878.00" stroke="#111" stroke-width="3" stroke-linecap="butt"/>
<line x1="134.50" y1="876.50" x2="457.50" y2="876.50" stroke="#111" stroke-width="3" stroke-linecap="butt"/>
<line x1="134.50" y1="876.50" x2="158.50" y2="876.50" stroke="#111" stroke-width="3" stroke-linecap="butt"/>
<text transform="translate(126.00 888.67) scale(0.922 1)" font-size="34.00" text-anchor="end" fill="#111" stroke="#111" stroke-width="0.35">0</text>
<line x1="134.50" y1="802.20" x2="158.50" y2="802.20" stroke="#111" stroke-width="3" stroke-linecap="butt"/>
<text transform="translate(126.00 814.37) scale(0.922 1)" font-size="34.00" text-anchor="end" fill="#111" stroke="#111" stroke-width="0.35">20</text>
<line x1="134.50" y1="727.90" x2="158.50" y2="727.90" stroke="#111" stroke-width="3" stroke-linecap="butt"/>
<text transform="translate(126.00 740.07) scale(0.922 1)" font-size="34.00" text-anchor="end" fill="#111" stroke="#111" stroke-width="0.35">40</text>
<line x1="134.50" y1="653.60" x2="158.50" y2="653.60" stroke="#111" stroke-width="3" stroke-linecap="butt"/>
<text transform="translate(126.00 665.77) scale(0.922 1)" font-size="34.00" text-anchor="end" fill="#111" stroke="#111" stroke-width="0.35">60</text>
<line x1="134.50" y1="579.30" x2="158.50" y2="579.30" stroke="#111" stroke-width="3" stroke-linecap="butt"/>
<text transform="translate(126.00 591.47) scale(0.922 1)" font-size="34.00" text-anchor="end" fill="#111" stroke="#111" stroke-width="0.35">80</text>
<line x1="187.60" y1="876.50" x2="187.60" y2="900.00" stroke="#111" stroke-width="3" stroke-linecap="butt"/>
<line x1="247.30" y1="876.50" x2="247.30" y2="900.00" stroke="#111" stroke-width="3" stroke-linecap="butt"/>
<line x1="307.00" y1="876.50" x2="307.00" y2="900.00" stroke="#111" stroke-width="3" stroke-linecap="butt"/>
<line x1="366.70" y1="876.50" x2="366.70" y2="900.00" stroke="#111" stroke-width="3" stroke-linecap="butt"/>
<line x1="426.40" y1="876.50" x2="426.40" y2="900.00" stroke="#111" stroke-width="3" stroke-linecap="butt"/>
<circle cx="170.20" cy="681.96" r="5.55" fill="#fff" stroke="#000" stroke-width="3"/>
<circle cx="181.40" cy="680.96" r="5.55" fill="#fff" stroke="#000" stroke-width="3"/>
<circle cx="195.10" cy="874.28" r="5.55" fill="#fff" stroke="#000" stroke-width="3"/>
<circle cx="206.30" cy="871.28" r="5.55" fill="#fff" stroke="#000" stroke-width="3"/>
<circle cx="229.90" cy="750.49" r="5.55" fill="#fff" stroke="#000" stroke-width="3"/>
<circle cx="241.10" cy="749.89" r="5.55" fill="#fff" stroke="#000" stroke-width="3"/>
<circle cx="254.80" cy="867.36" r="5.55" fill="#fff" stroke="#000" stroke-width="3"/>
<circle cx="266.00" cy="863.36" r="5.55" fill="#fff" stroke="#000" stroke-width="3"/>
<circle cx="289.60" cy="793.71" r="5.55" fill="#fff" stroke="#000" stroke-width="3"/>
<circle cx="300.80" cy="792.11" r="5.55" fill="#fff" stroke="#000" stroke-width="3"/>
<circle cx="314.50" cy="867.21" r="5.55" fill="#fff" stroke="#000" stroke-width="3"/>
<circle cx="325.70" cy="867.21" r="5.55" fill="#fff" stroke="#000" stroke-width="3"/>
<circle cx="349.30" cy="699.38" r="5.55" fill="#fff" stroke="#000" stroke-width="3"/>
<circle cx="360.50" cy="696.38" r="5.55" fill="#fff" stroke="#000" stroke-width="3"/>
<circle cx="374.20" cy="865.86" r="5.55" fill="#fff" stroke="#000" stroke-width="3"/>
<circle cx="385.40" cy="864.86" r="5.55" fill="#fff" stroke="#000" stroke-width="3"/>
<circle cx="409.00" cy="708.97" r="5.55" fill="#fff" stroke="#000" stroke-width="3"/>
<circle cx="420.20" cy="705.97" r="5.55" fill="#fff" stroke="#000" stroke-width="3"/>
<circle cx="433.90" cy="873.08" r="5.55" fill="#fff" stroke="#000" stroke-width="3"/>
<circle cx="445.10" cy="872.49" r="5.55" fill="#fff" stroke="#000" stroke-width="3"/>
<rect x="134.00" y="511.00" width="69.30" height="26.30" fill="#4a4a4a"/>
<rect x="134.00" y="544.00" width="69.30" height="26.30" fill="#ef5049"/>
<text transform="translate(216.00 534.00) scale(0.922 1)" font-size="34.00" text-anchor="start" fill="#111" stroke="#111" stroke-width="0.35">Input</text>
<text transform="translate(216.00 566.50) scale(0.922 1)" font-size="34.00" text-anchor="start" fill="#111" stroke="#111" stroke-width="0.35">Engineered AlkB</text>
<text transform="translate(31.70 733.00) rotate(-90) scale(0.922 1)" font-size="34.00" text-anchor="middle" fill="#111" stroke="#111" stroke-width="0.35"><tspan dy="-0.00" font-size="34.00">mt-tRNA m</tspan><tspan dy="-12.24" font-size="24.82">1</tspan><tspan dy="12.24" font-size="34.00">G</tspan><tspan dy="8.50" font-size="24.82">9</tspan></text>
<text transform="translate(72.40 729.00) rotate(-90) scale(0.922 1)" font-size="34.00" text-anchor="middle" fill="#111" stroke="#111" stroke-width="0.35">Misincorporation (%)</text>
<text transform="translate(193.10 933.00) rotate(-45) scale(0.922 1)" font-size="34.00" text-anchor="end" fill="#111" stroke="#111" stroke-width="0.35">mt-Cys</text>
<text transform="translate(252.80 933.00) rotate(-45) scale(0.922 1)" font-size="34.00" text-anchor="end" fill="#111" stroke="#111" stroke-width="0.35">mt-Gln</text>
<text transform="translate(312.50 933.00) rotate(-45) scale(0.922 1)" font-size="34.00" text-anchor="end" fill="#111" stroke="#111" stroke-width="0.35">mt-Ile</text>
<text transform="translate(372.20 933.00) rotate(-45) scale(0.922 1)" font-size="34.00" text-anchor="end" fill="#111" stroke="#111" stroke-width="0.35">mt-Leu1</text>
<text transform="translate(431.90 933.00) rotate(-45) scale(0.922 1)" font-size="34.00" text-anchor="end" fill="#111" stroke="#111" stroke-width="0.35">mt-Tyr</text>
</g>
<g>
<text transform="translate(475.50 547.50) scale(0.97 1)" font-size="55.00" text-anchor="start" fill="#231f20" font-weight="bold">e</text>
<rect x="614.80" y="706.23" width="20.80" height="170.17" fill="#4a4a4a"/>
<rect x="639.10" y="872.66" width="20.80" height="3.74" fill="#ef5049"/>
<rect x="673.20" y="685.66" width="20.80" height="190.74" fill="#4a4a4a"/>
<rect x="697.50" y="870.79" width="20.80" height="5.61" fill="#ef5049"/>
<rect x="731.60" y="809.08" width="20.80" height="67.32" fill="#4a4a4a"/>
<rect x="755.90" y="872.66" width="20.80" height="3.74" fill="#ef5049"/>
<rect x="790.00" y="724.93" width="20.80" height="151.47" fill="#4a4a4a"/>
<rect x="814.30" y="872.66" width="20.80" height="3.74" fill="#ef5049"/>
<line x1="605.00" y1="575.70" x2="605.00" y2="877.90" stroke="#111" stroke-width="3" stroke-linecap="butt"/>
<line x1="581.00" y1="876.40" x2="845.40" y2="876.40" stroke="#111" stroke-width="3" stroke-linecap="butt"/>
<line x1="581.00" y1="876.40" x2="605.00" y2="876.40" stroke="#111" stroke-width="3" stroke-linecap="butt"/>
<text transform="translate(572.50 888.57) scale(0.922 1)" font-size="34.00" text-anchor="end" fill="#111" stroke="#111" stroke-width="0.35">0</text>
<line x1="581.00" y1="801.60" x2="605.00" y2="801.60" stroke="#111" stroke-width="3" stroke-linecap="butt"/>
<text transform="translate(572.50 813.77) scale(0.922 1)" font-size="34.00" text-anchor="end" fill="#111" stroke="#111" stroke-width="0.35">20</text>
<line x1="581.00" y1="726.80" x2="605.00" y2="726.80" stroke="#111" stroke-width="3" stroke-linecap="butt"/>
<text transform="translate(572.50 738.97) scale(0.922 1)" font-size="34.00" text-anchor="end" fill="#111" stroke="#111" stroke-width="0.35">40</text>
<line x1="581.00" y1="652.00" x2="605.00" y2="652.00" stroke="#111" stroke-width="3" stroke-linecap="butt"/>
<text transform="translate(572.50 664.17) scale(0.922 1)" font-size="34.00" text-anchor="end" fill="#111" stroke="#111" stroke-width="0.35">60</text>
<line x1="581.00" y1="577.20" x2="605.00" y2="577.20" stroke="#111" stroke-width="3" stroke-linecap="butt"/>
<text transform="translate(572.50 589.37) scale(0.922 1)" font-size="34.00" text-anchor="end" fill="#111" stroke="#111" stroke-width="0.35">80</text>
<line x1="636.80" y1="876.40" x2="636.80" y2="899.90" stroke="#111" stroke-width="3" stroke-linecap="butt"/>
<line x1="695.20" y1="876.40" x2="695.20" y2="899.90" stroke="#111" stroke-width="3" stroke-linecap="butt"/>
<line x1="753.60" y1="876.40" x2="753.60" y2="899.90" stroke="#111" stroke-width="3" stroke-linecap="butt"/>
<line x1="812.00" y1="876.40" x2="812.00" y2="899.90" stroke="#111" stroke-width="3" stroke-linecap="butt"/>
<circle cx="620.30" cy="706.73" r="5.55" fill="#fff" stroke="#000" stroke-width="3"/>
<circle cx="630.10" cy="705.73" r="5.55" fill="#fff" stroke="#000" stroke-width="3"/>
<circle cx="644.60" cy="874.16" r="5.55" fill="#fff" stroke="#000" stroke-width="3"/>
<circle cx="654.40" cy="871.16" r="5.55" fill="#fff" stroke="#000" stroke-width="3"/>
<circle cx="678.70" cy="685.96" r="5.55" fill="#fff" stroke="#000" stroke-width="3"/>
<circle cx="688.50" cy="685.36" r="5.55" fill="#fff" stroke="#000" stroke-width="3"/>
<circle cx="703.00" cy="872.79" r="5.55" fill="#fff" stroke="#000" stroke-width="3"/>
<circle cx="712.80" cy="868.79" r="5.55" fill="#fff" stroke="#000" stroke-width="3"/>
<circle cx="737.10" cy="809.88" r="5.55" fill="#fff" stroke="#000" stroke-width="3"/>
<circle cx="746.90" cy="808.28" r="5.55" fill="#fff" stroke="#000" stroke-width="3"/>
<circle cx="761.40" cy="872.66" r="5.55" fill="#fff" stroke="#000" stroke-width="3"/>
<circle cx="771.20" cy="872.66" r="5.55" fill="#fff" stroke="#000" stroke-width="3"/>
<circle cx="795.50" cy="726.13" r="5.55" fill="#fff" stroke="#000" stroke-width="3"/>
<circle cx="805.30" cy="723.13" r="5.55" fill="#fff" stroke="#000" stroke-width="3"/>
<circle cx="819.80" cy="873.16" r="5.55" fill="#fff" stroke="#000" stroke-width="3"/>
<circle cx="829.60" cy="872.16" r="5.55" fill="#fff" stroke="#000" stroke-width="3"/>
<rect x="581.50" y="511.00" width="69.30" height="26.30" fill="#4a4a4a"/>
<rect x="581.50" y="544.00" width="69.30" height="26.30" fill="#ef5049"/>
<text transform="translate(663.50 534.00) scale(0.922 1)" font-size="34.00" text-anchor="start" fill="#111" stroke="#111" stroke-width="0.35">Input</text>
<text transform="translate(663.50 566.50) scale(0.922 1)" font-size="34.00" text-anchor="start" fill="#111" stroke="#111" stroke-width="0.35">Engineered AlkB</text>
<text transform="translate(473.80 735.00) rotate(-90) scale(0.922 1)" font-size="34.00" text-anchor="middle" fill="#111" stroke="#111" stroke-width="0.35"><tspan dy="-0.00" font-size="34.00">mt-tRNA m</tspan><tspan dy="-12.24" font-size="24.82">1</tspan><tspan dy="12.24" font-size="34.00">G</tspan><tspan dy="8.50" font-size="24.82">37</tspan></text>
<text transform="translate(516.90 733.60) rotate(-90) scale(0.922 1)" font-size="34.00" text-anchor="middle" fill="#111" stroke="#111" stroke-width="0.35">Misincorporation (%)</text>
<text transform="translate(642.30 932.90) rotate(-45) scale(0.922 1)" font-size="34.00" text-anchor="end" fill="#111" stroke="#111" stroke-width="0.35">mt-Ala</text>
<text transform="translate(700.70 932.90) rotate(-45) scale(0.922 1)" font-size="34.00" text-anchor="end" fill="#111" stroke="#111" stroke-width="0.35">mt-Gln</text>
<text transform="translate(759.10 932.90) rotate(-45) scale(0.922 1)" font-size="34.00" text-anchor="end" fill="#111" stroke="#111" stroke-width="0.35">mt-Leu2</text>
<text transform="translate(817.50 932.90) rotate(-45) scale(0.922 1)" font-size="34.00" text-anchor="end" fill="#111" stroke="#111" stroke-width="0.35">mt-Pro</text>
</g>
<g>
<text transform="translate(912.50 528.50) scale(0.97 1)" font-size="55.00" text-anchor="start" fill="#231f20" font-weight="bold">g</text>
<defs><filter id="bl" x="-30%" y="-60%" width="160%" height="220%"><feGaussianBlur stdDeviation="2.2"/></filter><filter id="bl2" x="-30%" y="-60%" width="160%" height="220%"><feGaussianBlur stdDeviation="3"/></filter><linearGradient id="bg1" x1="0" x2="1" y1="0" y2="0"><stop offset="0" stop-color="#f4f4f4"/><stop offset="0.5" stop-color="#e9e9e9"/><stop offset="1" stop-color="#f1f1f1"/></linearGradient></defs>
<rect x="1024.50" y="498.50" width="99.50" height="48.50" fill="url(#bg1)" stroke="#222" stroke-width="1.6"/>
<g filter="url(#bl)"><rect x="1040" y="521.5" width="27" height="8" rx="4" fill="#151515"/><rect x="1082" y="521.5" width="30" height="8" rx="4" fill="#151515"/></g>
<rect x="1024.50" y="570.50" width="99.50" height="54.50" fill="url(#bg1)" stroke="#222" stroke-width="1.6"/>
<g filter="url(#bl2)"><rect x="1043" y="591" width="29" height="17" rx="8" fill="#050505"/><rect x="1086" y="594" width="26" height="6" rx="3" fill="#d8d8d8"/></g>
<text transform="translate(960.50 543.80) scale(0.922 1)" font-size="31.50" text-anchor="start" fill="#111" stroke="#111" stroke-width="0.35">37K-</text>
<text transform="translate(960.50 624.50) scale(0.922 1)" font-size="31.50" text-anchor="start" fill="#111" stroke="#111" stroke-width="0.35">70K-</text>
<text transform="translate(1127.50 523.80) scale(0.922 1)" font-size="30.00" text-anchor="start" fill="#111" stroke="#111" stroke-width="0.35">GAPDH,</text>
<text transform="translate(1127.50 558.50) scale(0.922 1)" font-size="30.00" text-anchor="start" fill="#111" stroke="#111" stroke-width="0.35">~40 kDa</text>
<text transform="translate(1128.50 590.00) scale(0.922 1)" font-size="30.00" text-anchor="start" fill="#111" stroke="#111" stroke-width="0.35">TRMT1,</text>
<text transform="translate(1127.50 625.00) scale(0.922 1)" font-size="30.00" text-anchor="start" fill="#111" stroke="#111" stroke-width="0.35">~75 kDa</text>
<rect x="1095.00" y="691.20" width="32.50" height="192.00" fill="#4a4a4a"/>
<rect x="1133.50" y="811.20" width="33.00" height="72.00" fill="#ef5049"/>
<line x1="1079.50" y1="644.20" x2="1079.50" y2="884.70" stroke="#111" stroke-width="3" stroke-linecap="butt"/>
<line x1="1056.50" y1="883.20" x2="1184.00" y2="883.20" stroke="#111" stroke-width="3" stroke-linecap="butt"/>
<line x1="1056.50" y1="883.20" x2="1079.50" y2="883.20" stroke="#111" stroke-width="3" stroke-linecap="butt"/>
<text transform="translate(1048.00 895.37) scale(0.922 1)" font-size="34.00" text-anchor="end" fill="#111" stroke="#111" stroke-width="0.35">0</text>
<line x1="1056.50" y1="787.20" x2="1079.50" y2="787.20" stroke="#111" stroke-width="3" stroke-linecap="butt"/>
<text transform="translate(1048.00 799.37) scale(0.922 1)" font-size="34.00" text-anchor="end" fill="#111" stroke="#111" stroke-width="0.35">50</text>
<line x1="1056.50" y1="691.20" x2="1079.50" y2="691.20" stroke="#111" stroke-width="3" stroke-linecap="butt"/>
<text transform="translate(1048.00 703.37) scale(0.922 1)" font-size="34.00" text-anchor="end" fill="#111" stroke="#111" stroke-width="0.35">100</text>
<line x1="1110.50" y1="883.20" x2="1110.50" y2="905.70" stroke="#111" stroke-width="3" stroke-linecap="butt"/>
<line x1="1150.00" y1="883.20" x2="1150.00" y2="905.70" stroke="#111" stroke-width="3" stroke-linecap="butt"/>
<circle cx="1100.75" cy="696.70" r="5.55" fill="#fff" stroke="#000" stroke-width="3"/>
<circle cx="1121.75" cy="686.20" r="5.55" fill="#fff" stroke="#000" stroke-width="3"/>
<circle cx="1139.50" cy="814.20" r="5.55" fill="#fff" stroke="#000" stroke-width="3"/>
<circle cx="1160.50" cy="808.20" r="5.55" fill="#fff" stroke="#000" stroke-width="3"/>
<text transform="translate(1116.00 938.70) rotate(-45) scale(0.922 1)" font-size="34.00" text-anchor="end" fill="#111" stroke="#111" stroke-width="0.35">shControl</text>
<text transform="translate(1155.50 938.70) rotate(-45) scale(0.922 1)" font-size="34.00" text-anchor="end" fill="#111" stroke="#111" stroke-width="0.35">shTRMT1</text>
<text transform="translate(943.30 772.00) rotate(-90) scale(0.922 1)" font-size="34.00" text-anchor="middle" fill="#111" stroke="#111" stroke-width="0.35">Normalized TRMT1</text>
<text transform="translate(981.80 770.40) rotate(-90) scale(0.922 1)" font-size="34.00" text-anchor="middle" fill="#111" stroke="#111" stroke-width="0.35">mRNA level (%)</text>
</g>
<g>
<text transform="translate(1259.00 552.50) scale(0.97 1)" font-size="55.00" text-anchor="start" fill="#231f20" font-weight="bold">h</text>
<rect x="1420.00" y="609.75" width="37.50" height="267.75" fill="#4a4a4a"/>
<rect x="1465.00" y="742.14" width="37.50" height="135.36" fill="#f4a9b8"/>
<line x1="1401.50" y1="578.50" x2="1401.50" y2="879.00" stroke="#111" stroke-width="3" stroke-linecap="butt"/>
<line x1="1378.50" y1="877.50" x2="1505.00" y2="877.50" stroke="#111" stroke-width="3" stroke-linecap="butt"/>
<line x1="1378.50" y1="877.50" x2="1401.50" y2="877.50" stroke="#111" stroke-width="3" stroke-linecap="butt"/>
<text transform="translate(1370.00 889.67) scale(0.922 1)" font-size="34.00" text-anchor="end" fill="#111" stroke="#111" stroke-width="0.35">0</text>
<line x1="1378.50" y1="818.00" x2="1401.50" y2="818.00" stroke="#111" stroke-width="3" stroke-linecap="butt"/>
<text transform="translate(1370.00 830.17) scale(0.922 1)" font-size="34.00" text-anchor="end" fill="#111" stroke="#111" stroke-width="0.35">20</text>
<line x1="1378.50" y1="758.50" x2="1401.50" y2="758.50" stroke="#111" stroke-width="3" stroke-linecap="butt"/>
<text transform="translate(1370.00 770.67) scale(0.922 1)" font-size="34.00" text-anchor="end" fill="#111" stroke="#111" stroke-width="0.35">40</text>
<line x1="1378.50" y1="699.00" x2="1401.50" y2="699.00" stroke="#111" stroke-width="3" stroke-linecap="butt"/>
<text transform="translate(1370.00 711.17) scale(0.922 1)" font-size="34.00" text-anchor="end" fill="#111" stroke="#111" stroke-width="0.35">60</text>
<line x1="1378.50" y1="639.50" x2="1401.50" y2="639.50" stroke="#111" stroke-width="3" stroke-linecap="butt"/>
<text transform="translate(1370.00 651.67) scale(0.922 1)" font-size="34.00" text-anchor="end" fill="#111" stroke="#111" stroke-width="0.35">80</text>
<line x1="1378.50" y1="580.00" x2="1401.50" y2="580.00" stroke="#111" stroke-width="3" stroke-linecap="butt"/>
<text transform="translate(1370.00 592.17) scale(0.922 1)" font-size="34.00" text-anchor="end" fill="#111" stroke="#111" stroke-width="0.35">100</text>
<line x1="1438.50" y1="877.50" x2="1438.50" y2="900.00" stroke="#111" stroke-width="3" stroke-linecap="butt"/>
<line x1="1483.50" y1="877.50" x2="1483.50" y2="900.00" stroke="#111" stroke-width="3" stroke-linecap="butt"/>
<circle cx="1425.75" cy="610.75" r="5.55" fill="#fff" stroke="#000" stroke-width="3"/>
<circle cx="1451.75" cy="608.75" r="5.55" fill="#fff" stroke="#000" stroke-width="3"/>
<circle cx="1470.75" cy="742.14" r="5.55" fill="#fff" stroke="#000" stroke-width="3"/>
<circle cx="1496.75" cy="741.14" r="5.55" fill="#fff" stroke="#000" stroke-width="3"/>
<text transform="translate(1444.00 933.00) rotate(-45) scale(0.922 1)" font-size="34.00" text-anchor="end" fill="#111" stroke="#111" stroke-width="0.35">shControl</text>
<text transform="translate(1489.00 933.00) rotate(-45) scale(0.922 1)" font-size="34.00" text-anchor="end" fill="#111" stroke="#111" stroke-width="0.35">shTRMT1</text>
<text transform="translate(1274.50 737.90) rotate(-90) scale(0.922 1)" font-size="34.00" text-anchor="middle" fill="#111" stroke="#111" stroke-width="0.35"><tspan dy="-0.00" font-size="34.00">mt-tRNA mt-Ile m</tspan><tspan dy="-14.28" dx="0.80" font-size="22.10">2</tspan><tspan dy="27.88" dx="0.80" font-size="22.10">2</tspan><tspan dy="-13.60" dx="0.80" font-size="34.00">G</tspan><tspan dy="13.60" dx="0.80" font-size="22.10">26</tspan></text>
<text transform="translate(1316.80 736.00) rotate(-90) scale(0.922 1)" font-size="34.00" text-anchor="middle" fill="#111" stroke="#111" stroke-width="0.35">Misincorporation (%)</text>
</g>
<g>
<text transform="translate(1508.00 552.50) scale(0.97 1)" font-size="55.00" text-anchor="start" fill="#231f20" font-weight="bold">i</text>
<rect x="1705.00" y="614.69" width="37.40" height="260.31" fill="#4a4a4a"/>
<rect x="1749.50" y="611.71" width="37.30" height="263.29" fill="#f4a9b8"/>
<line x1="1686.50" y1="576.00" x2="1686.50" y2="876.50" stroke="#111" stroke-width="3" stroke-linecap="butt"/>
<line x1="1663.50" y1="875.00" x2="1805.50" y2="875.00" stroke="#111" stroke-width="3" stroke-linecap="butt"/>
<line x1="1663.50" y1="875.00" x2="1686.50" y2="875.00" stroke="#111" stroke-width="3" stroke-linecap="butt"/>
<text transform="translate(1655.00 887.17) scale(0.922 1)" font-size="34.00" text-anchor="end" fill="#111" stroke="#111" stroke-width="0.35">0</text>
<line x1="1663.50" y1="815.50" x2="1686.50" y2="815.50" stroke="#111" stroke-width="3" stroke-linecap="butt"/>
<text transform="translate(1655.00 827.67) scale(0.922 1)" font-size="34.00" text-anchor="end" fill="#111" stroke="#111" stroke-width="0.35">20</text>
<line x1="1663.50" y1="756.00" x2="1686.50" y2="756.00" stroke="#111" stroke-width="3" stroke-linecap="butt"/>
<text transform="translate(1655.00 768.17) scale(0.922 1)" font-size="34.00" text-anchor="end" fill="#111" stroke="#111" stroke-width="0.35">40</text>
<line x1="1663.50" y1="696.50" x2="1686.50" y2="696.50" stroke="#111" stroke-width="3" stroke-linecap="butt"/>
<text transform="translate(1655.00 708.67) scale(0.922 1)" font-size="34.00" text-anchor="end" fill="#111" stroke="#111" stroke-width="0.35">60</text>
<line x1="1663.50" y1="637.00" x2="1686.50" y2="637.00" stroke="#111" stroke-width="3" stroke-linecap="butt"/>
<text transform="translate(1655.00 649.17) scale(0.922 1)" font-size="34.00" text-anchor="end" fill="#111" stroke="#111" stroke-width="0.35">80</text>
<line x1="1663.50" y1="577.50" x2="1686.50" y2="577.50" stroke="#111" stroke-width="3" stroke-linecap="butt"/>
<text transform="translate(1655.00 589.67) scale(0.922 1)" font-size="34.00" text-anchor="end" fill="#111" stroke="#111" stroke-width="0.35">100</text>
<line x1="1723.00" y1="875.00" x2="1723.00" y2="897.50" stroke="#111" stroke-width="3" stroke-linecap="butt"/>
<line x1="1768.50" y1="875.00" x2="1768.50" y2="897.50" stroke="#111" stroke-width="3" stroke-linecap="butt"/>
<circle cx="1710.70" cy="617.69" r="5.55" fill="#fff" stroke="#000" stroke-width="3"/>
<circle cx="1736.70" cy="611.69" r="5.55" fill="#fff" stroke="#000" stroke-width="3"/>
<circle cx="1755.15" cy="614.71" r="5.55" fill="#fff" stroke="#000" stroke-width="3"/>
<circle cx="1781.15" cy="609.71" r="5.55" fill="#fff" stroke="#000" stroke-width="3"/>
<text transform="translate(1728.50 930.50) rotate(-45) scale(0.922 1)" font-size="34.00" text-anchor="end" fill="#111" stroke="#111" stroke-width="0.35">siControl</text>
<text transform="translate(1774.00 930.50) rotate(-45) scale(0.922 1)" font-size="34.00" text-anchor="end" fill="#111" stroke="#111" stroke-width="0.35">siALKBH7</text>
<text transform="translate(1545.20 735.40) rotate(-90) scale(0.922 1)" font-size="34.00" text-anchor="middle" fill="#111" stroke="#111" stroke-width="0.35"><tspan dy="-0.00" font-size="34.00">mt-tRNA mt-Ile m</tspan><tspan dy="-14.28" dx="0.80" font-size="22.10">2</tspan><tspan dy="27.88" dx="0.80" font-size="22.10">2</tspan><tspan dy="-13.60" dx="0.80" font-size="34.00">G</tspan><tspan dy="13.60" dx="0.80" font-size="22.10">26</tspan></text>
<text transform="translate(1587.50 732.00) rotate(-90) scale(0.922 1)" font-size="34.00" text-anchor="middle" fill="#111" stroke="#111" stroke-width="0.35">Misincorporation (%)</text>
</g>
<g>
<text transform="translate(1794.00 552.50) scale(0.97 1)" font-size="55.00" text-anchor="start" fill="#231f20" font-weight="bold">j</text>
<rect x="1988.50" y="596.84" width="37.30" height="278.16" fill="#4a4a4a"/>
<rect x="2032.40" y="602.79" width="37.80" height="272.21" fill="#0ba08b"/>
<line x1="1970.50" y1="576.00" x2="1970.50" y2="876.50" stroke="#111" stroke-width="3" stroke-linecap="butt"/>
<line x1="1947.50" y1="875.00" x2="2089.00" y2="875.00" stroke="#111" stroke-width="3" stroke-linecap="butt"/>
<line x1="1947.50" y1="875.00" x2="1970.50" y2="875.00" stroke="#111" stroke-width="3" stroke-linecap="butt"/>
<text transform="translate(1939.00 887.17) scale(0.922 1)" font-size="34.00" text-anchor="end" fill="#111" stroke="#111" stroke-width="0.35">0</text>
<line x1="1947.50" y1="815.50" x2="1970.50" y2="815.50" stroke="#111" stroke-width="3" stroke-linecap="butt"/>
<text transform="translate(1939.00 827.67) scale(0.922 1)" font-size="34.00" text-anchor="end" fill="#111" stroke="#111" stroke-width="0.35">20</text>
<line x1="1947.50" y1="756.00" x2="1970.50" y2="756.00" stroke="#111" stroke-width="3" stroke-linecap="butt"/>
<text transform="translate(1939.00 768.17) scale(0.922 1)" font-size="34.00" text-anchor="end" fill="#111" stroke="#111" stroke-width="0.35">40</text>
<line x1="1947.50" y1="696.50" x2="1970.50" y2="696.50" stroke="#111" stroke-width="3" stroke-linecap="butt"/>
<text transform="translate(1939.00 708.67) scale(0.922 1)" font-size="34.00" text-anchor="end" fill="#111" stroke="#111" stroke-width="0.35">60</text>
<line x1="1947.50" y1="637.00" x2="1970.50" y2="637.00" stroke="#111" stroke-width="3" stroke-linecap="butt"/>
<text transform="translate(1939.00 649.17) scale(0.922 1)" font-size="34.00" text-anchor="end" fill="#111" stroke="#111" stroke-width="0.35">80</text>
<line x1="1947.50" y1="577.50" x2="1970.50" y2="577.50" stroke="#111" stroke-width="3" stroke-linecap="butt"/>
<text transform="translate(1939.00 589.67) scale(0.922 1)" font-size="34.00" text-anchor="end" fill="#111" stroke="#111" stroke-width="0.35">100</text>
<line x1="2008.00" y1="875.00" x2="2008.00" y2="897.50" stroke="#111" stroke-width="3" stroke-linecap="butt"/>
<line x1="2052.00" y1="875.00" x2="2052.00" y2="897.50" stroke="#111" stroke-width="3" stroke-linecap="butt"/>
<circle cx="1994.15" cy="597.84" r="5.55" fill="#fff" stroke="#000" stroke-width="3"/>
<circle cx="2020.15" cy="594.84" r="5.55" fill="#fff" stroke="#000" stroke-width="3"/>
<circle cx="2038.30" cy="603.79" r="5.55" fill="#fff" stroke="#000" stroke-width="3"/>
<circle cx="2064.30" cy="601.79" r="5.55" fill="#fff" stroke="#000" stroke-width="3"/>
<text transform="translate(2013.50 930.50) rotate(-45) scale(0.922 1)" font-size="34.00" text-anchor="end" fill="#111" stroke="#111" stroke-width="0.35">o/e Control</text>
<text transform="translate(2057.50 930.50) rotate(-45) scale(0.922 1)" font-size="34.00" text-anchor="end" fill="#111" stroke="#111" stroke-width="0.35">o/e ALKBH7</text>
<text transform="translate(1839.70 733.70) rotate(-90) scale(0.922 1)" font-size="34.00" text-anchor="middle" fill="#111" stroke="#111" stroke-width="0.35"><tspan dy="-0.00" font-size="34.00">mt-tRNA mt-Ile m</tspan><tspan dy="-14.28" dx="0.80" font-size="22.10">2</tspan><tspan dy="27.88" dx="0.80" font-size="22.10">2</tspan><tspan dy="-13.60" dx="0.80" font-size="34.00">G</tspan><tspan dy="13.60" dx="0.80" font-size="22.10">26</tspan></text>
<text transform="translate(1881.70 732.50) rotate(-90) scale(0.922 1)" font-size="34.00" text-anchor="middle" fill="#111" stroke="#111" stroke-width="0.35">Misincorporation (%)</text>
</g>
<g>
<text transform="translate(8.00 1007.50) scale(0.97 1)" font-size="55.00" text-anchor="start" fill="#231f20" font-weight="bold">f</text>
<text transform="translate(25.00 1057.50) scale(0.97 1)" font-size="30.00" text-anchor="start" fill="#111" stroke="#111" stroke-width="0.35" textLength="242.268" lengthAdjust="spacing">Fragmented RNA:</text>
<text transform="translate(25.00 1091.00) scale(0.97 1)" font-size="30.00" text-anchor="start" fill="#111" stroke="#111" stroke-width="0.35" textLength="315.464" lengthAdjust="spacing">shTRMT1 vs. shControl</text>
<path d="M21.0 1212.0 C38.7 1216.5 55.3 1217.8 68.5 1212.0 S88.2 1210.7 105.0 1215.5" fill="none" stroke="#111" stroke-width="2.4" stroke-linecap="round"/>
<line x1="71.50" y1="1172.50" x2="71.50" y2="1211.50" stroke="#1a9b9b" stroke-width="2.2" stroke-linecap="butt"/>
<circle cx="71.5" cy="1172.5" r="12.3" fill="#1a9b9b"/>
<text transform="translate(76.00 1149.00) scale(0.97 1)" font-size="29.60" text-anchor="middle" fill="#1a9b9b" stroke="#1a9b9b" stroke-width="0.25"><tspan dy="-0.00" font-size="29.60">m</tspan><tspan dy="-10.95" font-size="21.31">1</tspan><tspan dy="10.95" font-size="29.60">A</tspan></text>
<path d="M112.0 1212.0 C129.5 1216.5 146.0 1217.8 159.0 1212.0 S179.0 1210.7 196.0 1215.5" fill="none" stroke="#111" stroke-width="2.4" stroke-linecap="round"/>
<line x1="162.00" y1="1172.50" x2="162.00" y2="1211.50" stroke="#f4955c" stroke-width="2.2" stroke-linecap="butt"/>
<circle cx="162.0" cy="1172.5" r="12.3" fill="#f4955c"/>
<text transform="translate(164.50 1149.00) scale(0.97 1)" font-size="29.60" text-anchor="middle" fill="#f4955c" stroke="#f4955c" stroke-width="0.25"><tspan dy="-0.00" font-size="29.60">m</tspan><tspan dy="-10.95" font-size="21.31">3</tspan><tspan dy="10.95" font-size="29.60">C</tspan></text>
<path d="M203.0 1210.0 C220.3 1214.5 236.7 1215.8 249.5 1210.0 S269.8 1208.7 287.0 1213.5" fill="none" stroke="#111" stroke-width="2.4" stroke-linecap="round"/>
<line x1="252.50" y1="1171.00" x2="252.50" y2="1209.50" stroke="#5f8fd3" stroke-width="2.2" stroke-linecap="butt"/>
<circle cx="252.5" cy="1171.0" r="12.3" fill="#5f8fd3"/>
<text transform="translate(255.00 1149.00) scale(0.97 1)" font-size="29.60" text-anchor="middle" fill="#5f8fd3" stroke="#5f8fd3" stroke-width="0.25"><tspan dy="-0.00" font-size="29.60">m</tspan><tspan dy="-10.95" font-size="21.31">1</tspan><tspan dy="10.95" font-size="29.60">G</tspan></text>
<path d="M294.5 1211.0 C312.0 1215.5 328.5 1216.8 341.5 1211.0 S361.8 1209.7 379.0 1214.5" fill="none" stroke="#111" stroke-width="2.4" stroke-linecap="round"/>
<line x1="344.50" y1="1172.00" x2="344.50" y2="1210.50" stroke="#e996bf" stroke-width="2.2" stroke-linecap="butt"/>
<circle cx="344.5" cy="1172.0" r="12.3" fill="#e996bf"/>
<text transform="translate(355.00 1149.00) scale(0.97 1)" font-size="29.60" text-anchor="middle" fill="#e996bf" stroke="#e996bf" stroke-width="0.25"><tspan dy="-0.00" font-size="29.60">m</tspan><tspan dy="-10.95" font-size="21.31">2</tspan><tspan dy="17.46" font-size="21.31">2</tspan><tspan dy="-6.51" font-size="29.60">G</tspan></text>
<line x1="174.00" y1="1236.00" x2="174.00" y2="1282.00" stroke="#111" stroke-width="3" stroke-linecap="butt"/>
<path d="M174.0 1291.0 L167.0 1272.5 L174.0 1277.5 L181.0 1272.5 Z" fill="#111"/>
<text transform="translate(283.50 1274.00) scale(0.97 1)" font-size="30.00" text-anchor="start" fill="#111" stroke="#111" stroke-width="0.35" textLength="145.361" lengthAdjust="spacing">PNK repair</text>
<path d="M67.5 1338.5 C85.3 1343.0 102.2 1344.3 115.5 1338.5 S135.5 1337.2 152.5 1342.0" fill="none" stroke="#111" stroke-width="2.4" stroke-linecap="round"/>
<line x1="118.50" y1="1300.00" x2="118.50" y2="1338.00" stroke="#1a9b9b" stroke-width="2.2" stroke-linecap="butt"/>
<circle cx="118.5" cy="1300.0" r="12.3" fill="#1a9b9b"/>
<text transform="translate(122.50 1275.00) scale(0.97 1)" font-size="29.60" text-anchor="middle" fill="#1a9b9b" stroke="#1a9b9b" stroke-width="0.25"><tspan dy="-0.00" font-size="29.60">m</tspan><tspan dy="-10.95" font-size="21.31">1</tspan><tspan dy="10.95" font-size="29.60">A</tspan></text>
<text transform="translate(150.00 1352.70) scale(0.97 1)" font-size="29.60" text-anchor="start" fill="#111" stroke="#111" stroke-width="0.35">OH</text>
<path d="M187.5 1323.5 C205.0 1328.0 221.5 1329.3 234.5 1323.5 S255.0 1322.2 272.5 1327.0" fill="none" stroke="#111" stroke-width="2.4" stroke-linecap="round"/>
<line x1="237.50" y1="1284.00" x2="237.50" y2="1323.00" stroke="#5f8fd3" stroke-width="2.2" stroke-linecap="butt"/>
<circle cx="237.5" cy="1284.0" r="12.3" fill="#5f8fd3"/>
<text transform="translate(240.50 1265.00) scale(0.97 1)" font-size="29.60" text-anchor="middle" fill="#5f8fd3" stroke="#5f8fd3" stroke-width="0.25"><tspan dy="-0.00" font-size="29.60">m</tspan><tspan dy="-10.95" font-size="21.31">1</tspan><tspan dy="10.95" font-size="29.60">G</tspan></text>
<text transform="translate(270.00 1337.70) scale(0.97 1)" font-size="29.60" text-anchor="start" fill="#111" stroke="#111" stroke-width="0.35">OH</text>
<path d="M77.5 1441.0 C95.5 1445.5 112.5 1446.8 126.0 1441.0 S145.8 1439.7 162.5 1444.5" fill="none" stroke="#111" stroke-width="2.4" stroke-linecap="round"/>
<line x1="129.00" y1="1402.50" x2="129.00" y2="1440.50" stroke="#f4955c" stroke-width="2.2" stroke-linecap="butt"/>
<circle cx="129.0" cy="1402.5" r="12.3" fill="#f4955c"/>
<text transform="translate(131.00 1377.50) scale(0.97 1)" font-size="29.60" text-anchor="middle" fill="#f4955c" stroke="#f4955c" stroke-width="0.25"><tspan dy="-0.00" font-size="29.60">m</tspan><tspan dy="-10.95" font-size="21.31">3</tspan><tspan dy="10.95" font-size="29.60">C</tspan></text>
<text transform="translate(160.00 1455.20) scale(0.97 1)" font-size="29.60" text-anchor="start" fill="#111" stroke="#111" stroke-width="0.35">OH</text>
<path d="M195.0 1426.0 C212.5 1430.5 229.0 1431.8 242.0 1426.0 S262.0 1424.7 279.0 1429.5" fill="none" stroke="#111" stroke-width="2.4" stroke-linecap="round"/>
<line x1="245.00" y1="1387.50" x2="245.00" y2="1425.50" stroke="#e996bf" stroke-width="2.2" stroke-linecap="butt"/>
<circle cx="245.0" cy="1387.5" r="12.3" fill="#e996bf"/>
<text transform="translate(254.50 1365.50) scale(0.97 1)" font-size="29.60" text-anchor="middle" fill="#e996bf" stroke="#e996bf" stroke-width="0.25"><tspan dy="-0.00" font-size="29.60">m</tspan><tspan dy="-10.95" font-size="21.31">2</tspan><tspan dy="17.46" font-size="21.31">2</tspan><tspan dy="-6.51" font-size="29.60">G</tspan></text>
<text transform="translate(276.50 1440.20) scale(0.97 1)" font-size="29.60" text-anchor="start" fill="#111" stroke="#111" stroke-width="0.35">OH</text>
<line x1="175.00" y1="1464.00" x2="175.00" y2="1509.00" stroke="#111" stroke-width="3" stroke-linecap="butt"/>
<path d="M175.0 1518.0 L168.0 1499.5 L175.0 1504.5 L182.0 1499.5 Z" fill="#111"/>
<text transform="translate(276.50 1491.00) scale(0.97 1)" font-size="30.00" text-anchor="start" fill="#111" stroke="#111" stroke-width="0.35" textLength="132.99" lengthAdjust="spacing">3'-adapter</text>
<text transform="translate(295.00 1525.00) scale(0.97 1)" font-size="30.00" text-anchor="start" fill="#111" stroke="#111" stroke-width="0.35" textLength="94.8454" lengthAdjust="spacing">ligation</text>
<path d="M186.5 1546.5 C203.8 1551.0 220.2 1552.3 233.0 1546.5 S254.2 1545.2 272.5 1550.0" fill="none" stroke="#111" stroke-width="2.4" stroke-linecap="round"/>
<line x1="236.00" y1="1507.50" x2="236.00" y2="1546.00" stroke="#5f8fd3" stroke-width="2.2" stroke-linecap="butt"/>
<circle cx="236.0" cy="1507.5" r="12.3" fill="#5f8fd3"/>
<text transform="translate(239.00 1485.00) scale(0.97 1)" font-size="29.60" text-anchor="middle" fill="#5f8fd3" stroke="#5f8fd3" stroke-width="0.25"><tspan dy="-0.00" font-size="29.60">m</tspan><tspan dy="-10.95" font-size="21.31">1</tspan><tspan dy="10.95" font-size="29.60">G</tspan></text>
<line x1="272.00" y1="1550.00" x2="331.50" y2="1550.00" stroke="#e8602c" stroke-width="7.2" stroke-linecap="butt"/>
<path d="M48.5 1571.5 C66.5 1576.0 83.5 1577.3 97.0 1571.5 S117.0 1570.2 134.0 1575.0" fill="none" stroke="#111" stroke-width="2.4" stroke-linecap="round"/>
<line x1="100.00" y1="1532.50" x2="100.00" y2="1571.00" stroke="#1a9b9b" stroke-width="2.2" stroke-linecap="butt"/>
<circle cx="100.0" cy="1532.5" r="12.3" fill="#1a9b9b"/>
<text transform="translate(103.50 1508.50) scale(0.97 1)" font-size="29.60" text-anchor="middle" fill="#1a9b9b" stroke="#1a9b9b" stroke-width="0.25"><tspan dy="-0.00" font-size="29.60">m</tspan><tspan dy="-10.95" font-size="21.31">1</tspan><tspan dy="10.95" font-size="29.60">A</tspan></text>
<line x1="133.50" y1="1575.00" x2="194.00" y2="1575.00" stroke="#e8602c" stroke-width="7.2" stroke-linecap="butt"/>
<path d="M193.5 1646.5 C211.5 1651.0 228.5 1652.3 242.0 1646.5 S261.8 1645.2 278.5 1650.0" fill="none" stroke="#111" stroke-width="2.4" stroke-linecap="round"/>
<line x1="245.00" y1="1608.50" x2="245.00" y2="1646.00" stroke="#e996bf" stroke-width="2.2" stroke-linecap="butt"/>
<circle cx="245.0" cy="1608.5" r="12.3" fill="#e996bf"/>
<text transform="translate(254.00 1586.00) scale(0.97 1)" font-size="29.60" text-anchor="middle" fill="#e996bf" stroke="#e996bf" stroke-width="0.25"><tspan dy="-0.00" font-size="29.60">m</tspan><tspan dy="-10.95" font-size="21.31">2</tspan><tspan dy="17.46" font-size="21.31">2</tspan><tspan dy="-6.51" font-size="29.60">G</tspan></text>
<line x1="278.00" y1="1650.00" x2="339.00" y2="1650.00" stroke="#e8602c" stroke-width="7.2" stroke-linecap="butt"/>
<path d="M60.0 1674.0 C77.5 1678.5 94.0 1679.8 107.0 1674.0 S127.5 1672.7 145.0 1677.5" fill="none" stroke="#111" stroke-width="2.4" stroke-linecap="round"/>
<line x1="110.00" y1="1635.00" x2="110.00" y2="1673.50" stroke="#f4955c" stroke-width="2.2" stroke-linecap="butt"/>
<circle cx="110.0" cy="1635.0" r="12.3" fill="#f4955c"/>
<text transform="translate(112.50 1611.00) scale(0.97 1)" font-size="29.60" text-anchor="middle" fill="#f4955c" stroke="#f4955c" stroke-width="0.25"><tspan dy="-0.00" font-size="29.60">m</tspan><tspan dy="-10.95" font-size="21.31">3</tspan><tspan dy="10.95" font-size="29.60">C</tspan></text>
<line x1="144.50" y1="1677.50" x2="205.00" y2="1677.50" stroke="#e8602c" stroke-width="7.2" stroke-linecap="butt"/>
<line x1="146.50" y1="1700.00" x2="146.50" y2="1744.00" stroke="#111" stroke-width="3" stroke-linecap="butt"/>
<path d="M146.5 1753.0 L139.5 1734.5 L146.5 1739.5 L153.5 1734.5 Z" fill="#111"/>
<text transform="translate(196.00 1733.50) scale(0.97 1)" font-size="30.00" text-anchor="start" fill="#111" stroke="#111" stroke-width="0.35" textLength="226.804" lengthAdjust="spacing">HIV RT/RNase H</text>
<line x1="57.50" y1="1762.50" x2="156.00" y2="1762.50" stroke="#0a0a0a" stroke-width="7.2" stroke-linecap="butt"/>
<line x1="158.00" y1="1762.50" x2="218.50" y2="1762.50" stroke="#e8602c" stroke-width="7.2" stroke-linecap="butt"/>
<path d="M111.2 1744.5 L125.8 1744.5 L118.5 1757.5 Z" fill="#fff" stroke="#e8602c" stroke-width="2.1" stroke-linejoin="miter"/>
<line x1="146.50" y1="1777.50" x2="146.50" y2="1820.00" stroke="#111" stroke-width="3" stroke-linecap="butt"/>
<path d="M146.5 1829.0 L139.5 1810.5 L146.5 1815.5 L153.5 1810.5 Z" fill="#111"/>
<text transform="translate(202.50 1798.50) scale(0.97 1)" font-size="30.00" text-anchor="start" fill="#111" stroke="#111" stroke-width="0.35" textLength="219.588" lengthAdjust="spacing">cDNA 3'-adapter</text>
<text transform="translate(263.50 1831.50) scale(0.97 1)" font-size="30.00" text-anchor="start" fill="#111" stroke="#111" stroke-width="0.35" textLength="94.8454" lengthAdjust="spacing">ligation</text>
<line x1="41.00" y1="1840.00" x2="101.50" y2="1840.00" stroke="#2f6fc1" stroke-width="7.2" stroke-linecap="butt"/>
<line x1="103.50" y1="1840.00" x2="201.50" y2="1840.00" stroke="#0a0a0a" stroke-width="7.2" stroke-linecap="butt"/>
<line x1="203.50" y1="1840.00" x2="263.50" y2="1840.00" stroke="#e8602c" stroke-width="7.2" stroke-linecap="butt"/>
<path d="M159.2 1820.5 L173.8 1820.5 L166.5 1833.5 Z" fill="#fff" stroke="#e8602c" stroke-width="2.1" stroke-linejoin="miter"/>
<line x1="145.50" y1="1852.50" x2="145.50" y2="1895.50" stroke="#111" stroke-width="3" stroke-linecap="butt"/>
<path d="M145.5 1904.5 L138.5 1886.0 L145.5 1891.0 L152.5 1886.0 Z" fill="#111"/>
<text transform="translate(186.00 1892.50) scale(0.97 1)" font-size="30.00" text-anchor="start" fill="#111" stroke="#111" stroke-width="0.35" textLength="237.113" lengthAdjust="spacing">PCR amplification</text>
<path d="M158.2 1895.5 L172.8 1895.5 L165.5 1908.5 Z" fill="#fff" stroke="#e8602c" stroke-width="2.1" stroke-linejoin="miter"/>
<line x1="41.00" y1="1915.00" x2="100.50" y2="1915.00" stroke="#2f6fc1" stroke-width="6.9" stroke-linecap="butt"/>
<line x1="102.50" y1="1915.00" x2="200.50" y2="1915.00" stroke="#0a0a0a" stroke-width="6.9" stroke-linecap="butt"/>
<line x1="202.50" y1="1915.00" x2="262.50" y2="1915.00" stroke="#e8602c" stroke-width="6.9" stroke-linecap="butt"/>
<line x1="41.00" y1="1926.00" x2="100.50" y2="1926.00" stroke="#2f6fc1" stroke-width="6.9" stroke-linecap="butt"/>
<line x1="102.50" y1="1926.00" x2="200.50" y2="1926.00" stroke="#0a0a0a" stroke-width="6.9" stroke-linecap="butt"/>
<line x1="202.50" y1="1926.00" x2="262.50" y2="1926.00" stroke="#e8602c" stroke-width="6.9" stroke-linecap="butt"/>
<rect x="39.80" y="1938.00" width="237.70" height="38.00" fill="#fff" stroke="#111" stroke-width="2.4"/>
<path d="M43.2 1949.0 L57.8 1949.0 L50.5 1962.0 Z" fill="#fff" stroke="#e8602c" stroke-width="2.1" stroke-linejoin="miter"/>
<text transform="translate(60.00 1966.00) scale(0.97 1)" font-size="30.00" text-anchor="start" fill="#111" stroke="#111" stroke-width="0.35" textLength="220.619" lengthAdjust="spacing">Misincorporation</text>
<text transform="translate(39.00 2012.00) scale(0.97 1)" font-size="30.00" text-anchor="start" fill="#111" stroke="#111" stroke-width="0.35" textLength="310.309" lengthAdjust="spacing">Lower misincorporation</text>
<text transform="translate(39.00 2048.50) scale(0.97 1)" font-size="30.00" text-anchor="start" fill="#111" stroke="#111" stroke-width="0.35"><tspan dy="-0.00" font-size="30.00">at m</tspan><tspan dy="-11.10" font-size="21.60">2</tspan><tspan dy="17.70" font-size="21.60">2</tspan><tspan dy="-6.60" font-size="30.00">G?</tspan></text>
</g>
<g>
<text transform="translate(432.50 1061.50) scale(0.97 1)" font-size="55.00" text-anchor="start" fill="#231f20" font-weight="bold">k</text>
<rect x="591.55" y="1090.65" width="22.35" height="262.85" fill="#4a4a4a"/>
<rect x="616.20" y="1089.17" width="22.35" height="264.33" fill="#f4a9b8"/>
<rect x="651.15" y="1322.32" width="22.35" height="31.19" fill="#4a4a4a"/>
<rect x="675.80" y="1316.38" width="22.35" height="37.12" fill="#f4a9b8"/>
<rect x="710.65" y="1307.46" width="22.35" height="46.04" fill="#4a4a4a"/>
<rect x="735.30" y="1305.98" width="22.35" height="47.52" fill="#f4a9b8"/>
<line x1="585.60" y1="1055.00" x2="585.60" y2="1355.00" stroke="#111" stroke-width="3" stroke-linecap="butt"/>
<line x1="576.10" y1="1353.50" x2="764.40" y2="1353.50" stroke="#111" stroke-width="3" stroke-linecap="butt"/>
<line x1="576.10" y1="1353.50" x2="585.60" y2="1353.50" stroke="#111" stroke-width="3" stroke-linecap="butt"/>
<text transform="translate(567.60 1365.67) scale(0.922 1)" font-size="34.00" text-anchor="end" fill="#111" stroke="#111" stroke-width="0.35">0</text>
<line x1="576.10" y1="1294.10" x2="585.60" y2="1294.10" stroke="#111" stroke-width="3" stroke-linecap="butt"/>
<text transform="translate(567.60 1306.27) scale(0.922 1)" font-size="34.00" text-anchor="end" fill="#111" stroke="#111" stroke-width="0.35">20</text>
<line x1="576.10" y1="1234.70" x2="585.60" y2="1234.70" stroke="#111" stroke-width="3" stroke-linecap="butt"/>
<text transform="translate(567.60 1246.87) scale(0.922 1)" font-size="34.00" text-anchor="end" fill="#111" stroke="#111" stroke-width="0.35">40</text>
<line x1="576.10" y1="1175.30" x2="585.60" y2="1175.30" stroke="#111" stroke-width="3" stroke-linecap="butt"/>
<text transform="translate(567.60 1187.47) scale(0.922 1)" font-size="34.00" text-anchor="end" fill="#111" stroke="#111" stroke-width="0.35">60</text>
<line x1="576.10" y1="1115.90" x2="585.60" y2="1115.90" stroke="#111" stroke-width="3" stroke-linecap="butt"/>
<text transform="translate(567.60 1128.07) scale(0.922 1)" font-size="34.00" text-anchor="end" fill="#111" stroke="#111" stroke-width="0.35">80</text>
<line x1="576.10" y1="1056.50" x2="585.60" y2="1056.50" stroke="#111" stroke-width="3" stroke-linecap="butt"/>
<text transform="translate(567.60 1068.67) scale(0.922 1)" font-size="34.00" text-anchor="end" fill="#111" stroke="#111" stroke-width="0.35">100</text>
<line x1="614.10" y1="1353.50" x2="614.10" y2="1361.50" stroke="#111" stroke-width="3" stroke-linecap="butt"/>
<line x1="673.70" y1="1353.50" x2="673.70" y2="1361.50" stroke="#111" stroke-width="3" stroke-linecap="butt"/>
<line x1="733.20" y1="1353.50" x2="733.20" y2="1361.50" stroke="#111" stroke-width="3" stroke-linecap="butt"/>
<circle cx="597.38" cy="1091.15" r="5.55" fill="#fff" stroke="#000" stroke-width="3"/>
<circle cx="608.08" cy="1090.15" r="5.55" fill="#fff" stroke="#000" stroke-width="3"/>
<circle cx="622.02" cy="1090.67" r="5.55" fill="#fff" stroke="#000" stroke-width="3"/>
<circle cx="632.73" cy="1087.67" r="5.55" fill="#fff" stroke="#000" stroke-width="3"/>
<circle cx="656.98" cy="1322.62" r="5.55" fill="#fff" stroke="#000" stroke-width="3"/>
<circle cx="667.68" cy="1322.02" r="5.55" fill="#fff" stroke="#000" stroke-width="3"/>
<circle cx="681.62" cy="1318.38" r="5.55" fill="#fff" stroke="#000" stroke-width="3"/>
<circle cx="692.33" cy="1314.38" r="5.55" fill="#fff" stroke="#000" stroke-width="3"/>
<circle cx="716.48" cy="1308.26" r="5.55" fill="#fff" stroke="#000" stroke-width="3"/>
<circle cx="727.18" cy="1306.66" r="5.55" fill="#fff" stroke="#000" stroke-width="3"/>
<circle cx="741.12" cy="1305.98" r="5.55" fill="#fff" stroke="#000" stroke-width="3"/>
<circle cx="751.83" cy="1305.98" r="5.55" fill="#fff" stroke="#000" stroke-width="3"/>
<rect x="646.50" y="1056.50" width="69.30" height="26.30" fill="#4a4a4a"/>
<rect x="646.50" y="1090.00" width="69.30" height="26.30" fill="#f4a9b8"/>
<text transform="translate(727.50 1078.50) scale(0.922 1)" font-size="34.00" text-anchor="start" fill="#111" stroke="#111" stroke-width="0.35">siControl</text>
<text transform="translate(727.50 1111.50) scale(0.922 1)" font-size="34.00" text-anchor="start" fill="#111" stroke="#111" stroke-width="0.35">siALKBH7</text>
<text transform="translate(465.80 1213.00) rotate(-90) scale(0.922 1)" font-size="34.00" text-anchor="middle" fill="#111" stroke="#111" stroke-width="0.35"><tspan dy="-0.00" font-size="34.00">mt-tRNA m</tspan><tspan dy="-12.24" font-size="24.82">1</tspan><tspan dy="12.24" font-size="34.00">A</tspan><tspan dy="8.50" font-size="24.82">58</tspan></text>
<text transform="translate(507.50 1209.00) rotate(-90) scale(0.922 1)" font-size="34.00" text-anchor="middle" fill="#111" stroke="#111" stroke-width="0.35">Misincorporation (%)</text>
<text transform="translate(618.10 1392.00) rotate(-45) scale(0.922 1)" font-size="34.00" text-anchor="end" fill="#111" stroke="#111" stroke-width="0.35">mt-Leu1</text>
<text transform="translate(677.70 1392.00) rotate(-45) scale(0.922 1)" font-size="34.00" text-anchor="end" fill="#111" stroke="#111" stroke-width="0.35">mt-Lys</text>
<text transform="translate(737.20 1392.00) rotate(-45) scale(0.922 1)" font-size="34.00" text-anchor="end" fill="#111" stroke="#111" stroke-width="0.35">mt-Ser1</text>
</g>
<g>
<text transform="translate(870.50 1057.50) scale(0.97 1)" font-size="55.00" text-anchor="start" fill="#231f20" font-weight="bold">l</text>
<rect x="1021.75" y="1097.60" width="22.35" height="256.91" fill="#4a4a4a"/>
<rect x="1046.40" y="1097.60" width="22.35" height="256.91" fill="#f4a9b8"/>
<rect x="1081.85" y="1133.23" width="22.35" height="221.27" fill="#4a4a4a"/>
<rect x="1106.50" y="1130.26" width="22.35" height="224.24" fill="#f4a9b8"/>
<line x1="1015.40" y1="1056.10" x2="1015.40" y2="1356.00" stroke="#111" stroke-width="3" stroke-linecap="butt"/>
<line x1="1005.90" y1="1354.50" x2="1135.00" y2="1354.50" stroke="#111" stroke-width="3" stroke-linecap="butt"/>
<line x1="1005.90" y1="1354.50" x2="1015.40" y2="1354.50" stroke="#111" stroke-width="3" stroke-linecap="butt"/>
<text transform="translate(997.40 1366.67) scale(0.922 1)" font-size="34.00" text-anchor="end" fill="#111" stroke="#111" stroke-width="0.35">0</text>
<line x1="1005.90" y1="1295.10" x2="1015.40" y2="1295.10" stroke="#111" stroke-width="3" stroke-linecap="butt"/>
<text transform="translate(997.40 1307.27) scale(0.922 1)" font-size="34.00" text-anchor="end" fill="#111" stroke="#111" stroke-width="0.35">20</text>
<line x1="1005.90" y1="1235.70" x2="1015.40" y2="1235.70" stroke="#111" stroke-width="3" stroke-linecap="butt"/>
<text transform="translate(997.40 1247.87) scale(0.922 1)" font-size="34.00" text-anchor="end" fill="#111" stroke="#111" stroke-width="0.35">40</text>
<line x1="1005.90" y1="1176.30" x2="1015.40" y2="1176.30" stroke="#111" stroke-width="3" stroke-linecap="butt"/>
<text transform="translate(997.40 1188.47) scale(0.922 1)" font-size="34.00" text-anchor="end" fill="#111" stroke="#111" stroke-width="0.35">60</text>
<line x1="1005.90" y1="1116.90" x2="1015.40" y2="1116.90" stroke="#111" stroke-width="3" stroke-linecap="butt"/>
<text transform="translate(997.40 1129.07) scale(0.922 1)" font-size="34.00" text-anchor="end" fill="#111" stroke="#111" stroke-width="0.35">80</text>
<line x1="1005.90" y1="1057.50" x2="1015.40" y2="1057.50" stroke="#111" stroke-width="3" stroke-linecap="butt"/>
<text transform="translate(997.40 1069.67) scale(0.922 1)" font-size="34.00" text-anchor="end" fill="#111" stroke="#111" stroke-width="0.35">100</text>
<line x1="1044.30" y1="1354.50" x2="1044.30" y2="1362.50" stroke="#111" stroke-width="3" stroke-linecap="butt"/>
<line x1="1104.40" y1="1354.50" x2="1104.40" y2="1362.50" stroke="#111" stroke-width="3" stroke-linecap="butt"/>
<circle cx="1027.67" cy="1099.10" r="5.55" fill="#fff" stroke="#000" stroke-width="3"/>
<circle cx="1038.42" cy="1094.89" r="5.55" fill="#fff" stroke="#000" stroke-width="3"/>
<circle cx="1052.82" cy="1100.39" r="5.55" fill="#fff" stroke="#000" stroke-width="3"/>
<circle cx="1064.07" cy="1092.89" r="5.55" fill="#fff" stroke="#000" stroke-width="3"/>
<circle cx="1093.03" cy="1126.23" r="5.55" fill="#fff" stroke="#000" stroke-width="3"/>
<circle cx="1093.03" cy="1138.23" r="5.55" fill="#fff" stroke="#000" stroke-width="3"/>
<circle cx="1112.92" cy="1130.26" r="5.55" fill="#fff" stroke="#000" stroke-width="3"/>
<circle cx="1123.67" cy="1125.86" r="5.55" fill="#fff" stroke="#000" stroke-width="3"/>
<text transform="translate(892.50 1211.00) rotate(-90) scale(0.922 1)" font-size="34.00" text-anchor="middle" fill="#111" stroke="#111" stroke-width="0.35"><tspan dy="-0.00" font-size="34.00">mt-tRNA m</tspan><tspan dy="-12.24" font-size="24.82">3</tspan><tspan dy="12.24" font-size="34.00">C</tspan><tspan dy="8.50" font-size="24.82">32</tspan></text>
<text transform="translate(932.50 1211.00) rotate(-90) scale(0.922 1)" font-size="34.00" text-anchor="middle" fill="#111" stroke="#111" stroke-width="0.35">Misincorporation (%)</text>
<text transform="translate(1048.30 1393.00) rotate(-45) scale(0.922 1)" font-size="34.00" text-anchor="end" fill="#111" stroke="#111" stroke-width="0.35">mt-Ser1</text>
<text transform="translate(1108.40 1393.00) rotate(-45) scale(0.922 1)" font-size="34.00" text-anchor="end" fill="#111" stroke="#111" stroke-width="0.35">mt-Thr</text>
</g>
<g>
<text transform="translate(1138.00 1056.50) scale(0.97 1)" font-size="55.00" text-anchor="start" fill="#231f20" font-weight="bold">m</text>
<rect x="1326.55" y="1155.38" width="20.10" height="199.12" fill="#4a4a4a"/>
<rect x="1348.45" y="1151.45" width="20.10" height="203.05" fill="#f4a9b8"/>
<rect x="1380.01" y="1121.32" width="20.10" height="233.18" fill="#4a4a4a"/>
<rect x="1401.91" y="1123.94" width="20.10" height="230.56" fill="#f4a9b8"/>
<rect x="1433.47" y="1180.27" width="20.10" height="174.23" fill="#4a4a4a"/>
<rect x="1455.37" y="1176.34" width="20.10" height="178.16" fill="#f4a9b8"/>
<rect x="1486.93" y="1127.87" width="20.10" height="226.63" fill="#4a4a4a"/>
<rect x="1508.83" y="1129.18" width="20.10" height="225.32" fill="#f4a9b8"/>
<rect x="1540.39" y="1114.77" width="20.10" height="239.73" fill="#4a4a4a"/>
<rect x="1562.29" y="1116.08" width="20.10" height="238.42" fill="#f4a9b8"/>
<rect x="1593.85" y="1129.18" width="20.10" height="225.32" fill="#4a4a4a"/>
<rect x="1615.75" y="1130.49" width="20.10" height="224.01" fill="#f4a9b8"/>
<rect x="1647.31" y="1122.63" width="20.10" height="231.87" fill="#4a4a4a"/>
<rect x="1669.21" y="1121.32" width="20.10" height="233.18" fill="#f4a9b8"/>
<rect x="1700.77" y="1169.79" width="20.10" height="184.71" fill="#4a4a4a"/>
<rect x="1722.67" y="1171.10" width="20.10" height="183.40" fill="#f4a9b8"/>
<rect x="1754.23" y="1164.55" width="20.10" height="189.95" fill="#4a4a4a"/>
<rect x="1776.13" y="1163.24" width="20.10" height="191.26" fill="#f4a9b8"/>
<rect x="1807.69" y="1134.42" width="20.10" height="220.08" fill="#4a4a4a"/>
<rect x="1829.59" y="1134.42" width="20.10" height="220.08" fill="#f4a9b8"/>
<rect x="1861.15" y="1130.49" width="20.10" height="224.01" fill="#4a4a4a"/>
<rect x="1883.05" y="1129.18" width="20.10" height="225.32" fill="#f4a9b8"/>
<rect x="1914.61" y="1123.94" width="20.10" height="230.56" fill="#4a4a4a"/>
<rect x="1936.51" y="1123.94" width="20.10" height="230.56" fill="#f4a9b8"/>
<rect x="1968.07" y="1131.80" width="20.10" height="222.70" fill="#4a4a4a"/>
<rect x="1989.97" y="1133.11" width="20.10" height="221.39" fill="#f4a9b8"/>
<rect x="2021.53" y="1140.97" width="20.10" height="213.53" fill="#4a4a4a"/>
<rect x="2043.43" y="1140.97" width="20.10" height="213.53" fill="#f4a9b8"/>
<line x1="1322.00" y1="1053.50" x2="1322.00" y2="1356.00" stroke="#111" stroke-width="3" stroke-linecap="butt"/>
<line x1="1312.50" y1="1354.50" x2="2068.00" y2="1354.50" stroke="#111" stroke-width="3" stroke-linecap="butt"/>
<line x1="1312.50" y1="1354.50" x2="1322.00" y2="1354.50" stroke="#111" stroke-width="3" stroke-linecap="butt"/>
<text transform="translate(1304.00 1366.67) scale(0.922 1)" font-size="34.00" text-anchor="end" fill="#111" stroke="#111" stroke-width="0.35">0</text>
<line x1="1312.50" y1="1302.10" x2="1322.00" y2="1302.10" stroke="#111" stroke-width="3" stroke-linecap="butt"/>
<text transform="translate(1304.00 1314.27) scale(0.922 1)" font-size="34.00" text-anchor="end" fill="#111" stroke="#111" stroke-width="0.35">20</text>
<line x1="1312.50" y1="1249.70" x2="1322.00" y2="1249.70" stroke="#111" stroke-width="3" stroke-linecap="butt"/>
<text transform="translate(1304.00 1261.87) scale(0.922 1)" font-size="34.00" text-anchor="end" fill="#111" stroke="#111" stroke-width="0.35">40</text>
<line x1="1312.50" y1="1197.30" x2="1322.00" y2="1197.30" stroke="#111" stroke-width="3" stroke-linecap="butt"/>
<text transform="translate(1304.00 1209.47) scale(0.922 1)" font-size="34.00" text-anchor="end" fill="#111" stroke="#111" stroke-width="0.35">60</text>
<line x1="1312.50" y1="1144.90" x2="1322.00" y2="1144.90" stroke="#111" stroke-width="3" stroke-linecap="butt"/>
<text transform="translate(1304.00 1157.07) scale(0.922 1)" font-size="34.00" text-anchor="end" fill="#111" stroke="#111" stroke-width="0.35">80</text>
<line x1="1312.50" y1="1092.50" x2="1322.00" y2="1092.50" stroke="#111" stroke-width="3" stroke-linecap="butt"/>
<text transform="translate(1304.00 1104.67) scale(0.922 1)" font-size="34.00" text-anchor="end" fill="#111" stroke="#111" stroke-width="0.35">100</text>
<line x1="1346.80" y1="1354.50" x2="1346.80" y2="1362.50" stroke="#111" stroke-width="3" stroke-linecap="butt"/>
<line x1="1400.26" y1="1354.50" x2="1400.26" y2="1362.50" stroke="#111" stroke-width="3" stroke-linecap="butt"/>
<line x1="1453.72" y1="1354.50" x2="1453.72" y2="1362.50" stroke="#111" stroke-width="3" stroke-linecap="butt"/>
<line x1="1507.18" y1="1354.50" x2="1507.18" y2="1362.50" stroke="#111" stroke-width="3" stroke-linecap="butt"/>
<line x1="1560.64" y1="1354.50" x2="1560.64" y2="1362.50" stroke="#111" stroke-width="3" stroke-linecap="butt"/>
<line x1="1614.10" y1="1354.50" x2="1614.10" y2="1362.50" stroke="#111" stroke-width="3" stroke-linecap="butt"/>
<line x1="1667.56" y1="1354.50" x2="1667.56" y2="1362.50" stroke="#111" stroke-width="3" stroke-linecap="butt"/>
<line x1="1721.02" y1="1354.50" x2="1721.02" y2="1362.50" stroke="#111" stroke-width="3" stroke-linecap="butt"/>
<line x1="1774.48" y1="1354.50" x2="1774.48" y2="1362.50" stroke="#111" stroke-width="3" stroke-linecap="butt"/>
<line x1="1827.94" y1="1354.50" x2="1827.94" y2="1362.50" stroke="#111" stroke-width="3" stroke-linecap="butt"/>
<line x1="1881.40" y1="1354.50" x2="1881.40" y2="1362.50" stroke="#111" stroke-width="3" stroke-linecap="butt"/>
<line x1="1934.86" y1="1354.50" x2="1934.86" y2="1362.50" stroke="#111" stroke-width="3" stroke-linecap="butt"/>
<line x1="1988.32" y1="1354.50" x2="1988.32" y2="1362.50" stroke="#111" stroke-width="3" stroke-linecap="butt"/>
<line x1="2041.78" y1="1354.50" x2="2041.78" y2="1362.50" stroke="#111" stroke-width="3" stroke-linecap="butt"/>
<circle cx="1332.40" cy="1155.88" r="5.55" fill="#fff" stroke="#000" stroke-width="3"/>
<circle cx="1340.80" cy="1154.88" r="5.55" fill="#fff" stroke="#000" stroke-width="3"/>
<circle cx="1354.30" cy="1152.95" r="5.55" fill="#fff" stroke="#000" stroke-width="3"/>
<circle cx="1362.70" cy="1149.95" r="5.55" fill="#fff" stroke="#000" stroke-width="3"/>
<circle cx="1385.86" cy="1121.62" r="5.55" fill="#fff" stroke="#000" stroke-width="3"/>
<circle cx="1394.26" cy="1121.02" r="5.55" fill="#fff" stroke="#000" stroke-width="3"/>
<circle cx="1407.76" cy="1125.94" r="5.55" fill="#fff" stroke="#000" stroke-width="3"/>
<circle cx="1416.16" cy="1121.94" r="5.55" fill="#fff" stroke="#000" stroke-width="3"/>
<circle cx="1439.32" cy="1181.07" r="5.55" fill="#fff" stroke="#000" stroke-width="3"/>
<circle cx="1447.72" cy="1179.47" r="5.55" fill="#fff" stroke="#000" stroke-width="3"/>
<circle cx="1461.22" cy="1176.34" r="5.55" fill="#fff" stroke="#000" stroke-width="3"/>
<circle cx="1469.62" cy="1176.34" r="5.55" fill="#fff" stroke="#000" stroke-width="3"/>
<circle cx="1492.78" cy="1129.07" r="5.55" fill="#fff" stroke="#000" stroke-width="3"/>
<circle cx="1501.18" cy="1126.07" r="5.55" fill="#fff" stroke="#000" stroke-width="3"/>
<circle cx="1514.68" cy="1129.68" r="5.55" fill="#fff" stroke="#000" stroke-width="3"/>
<circle cx="1523.08" cy="1128.68" r="5.55" fill="#fff" stroke="#000" stroke-width="3"/>
<circle cx="1546.24" cy="1116.27" r="5.55" fill="#fff" stroke="#000" stroke-width="3"/>
<circle cx="1554.64" cy="1113.27" r="5.55" fill="#fff" stroke="#000" stroke-width="3"/>
<circle cx="1568.14" cy="1116.38" r="5.55" fill="#fff" stroke="#000" stroke-width="3"/>
<circle cx="1576.54" cy="1115.78" r="5.55" fill="#fff" stroke="#000" stroke-width="3"/>
<circle cx="1599.70" cy="1131.18" r="5.55" fill="#fff" stroke="#000" stroke-width="3"/>
<circle cx="1608.10" cy="1127.18" r="5.55" fill="#fff" stroke="#000" stroke-width="3"/>
<circle cx="1621.60" cy="1131.29" r="5.55" fill="#fff" stroke="#000" stroke-width="3"/>
<circle cx="1630.00" cy="1129.69" r="5.55" fill="#fff" stroke="#000" stroke-width="3"/>
<circle cx="1653.16" cy="1122.63" r="5.55" fill="#fff" stroke="#000" stroke-width="3"/>
<circle cx="1661.56" cy="1122.63" r="5.55" fill="#fff" stroke="#000" stroke-width="3"/>
<circle cx="1675.06" cy="1122.52" r="5.55" fill="#fff" stroke="#000" stroke-width="3"/>
<circle cx="1683.46" cy="1119.52" r="5.55" fill="#fff" stroke="#000" stroke-width="3"/>
<circle cx="1706.62" cy="1170.29" r="5.55" fill="#fff" stroke="#000" stroke-width="3"/>
<circle cx="1715.02" cy="1169.29" r="5.55" fill="#fff" stroke="#000" stroke-width="3"/>
<circle cx="1728.52" cy="1172.60" r="5.55" fill="#fff" stroke="#000" stroke-width="3"/>
<circle cx="1736.92" cy="1169.60" r="5.55" fill="#fff" stroke="#000" stroke-width="3"/>
<circle cx="1760.08" cy="1164.85" r="5.55" fill="#fff" stroke="#000" stroke-width="3"/>
<circle cx="1768.48" cy="1164.25" r="5.55" fill="#fff" stroke="#000" stroke-width="3"/>
<circle cx="1781.98" cy="1165.24" r="5.55" fill="#fff" stroke="#000" stroke-width="3"/>
<circle cx="1790.38" cy="1161.24" r="5.55" fill="#fff" stroke="#000" stroke-width="3"/>
<circle cx="1813.54" cy="1135.22" r="5.55" fill="#fff" stroke="#000" stroke-width="3"/>
<circle cx="1821.94" cy="1133.62" r="5.55" fill="#fff" stroke="#000" stroke-width="3"/>
<circle cx="1835.44" cy="1134.42" r="5.55" fill="#fff" stroke="#000" stroke-width="3"/>
<circle cx="1843.84" cy="1134.42" r="5.55" fill="#fff" stroke="#000" stroke-width="3"/>
<circle cx="1867.00" cy="1131.69" r="5.55" fill="#fff" stroke="#000" stroke-width="3"/>
<circle cx="1875.40" cy="1128.69" r="5.55" fill="#fff" stroke="#000" stroke-width="3"/>
<circle cx="1888.90" cy="1129.68" r="5.55" fill="#fff" stroke="#000" stroke-width="3"/>
<circle cx="1897.30" cy="1128.68" r="5.55" fill="#fff" stroke="#000" stroke-width="3"/>
<circle cx="1920.46" cy="1125.44" r="5.55" fill="#fff" stroke="#000" stroke-width="3"/>
<circle cx="1928.86" cy="1122.44" r="5.55" fill="#fff" stroke="#000" stroke-width="3"/>
<circle cx="1942.36" cy="1124.24" r="5.55" fill="#fff" stroke="#000" stroke-width="3"/>
<circle cx="1950.76" cy="1123.64" r="5.55" fill="#fff" stroke="#000" stroke-width="3"/>
<circle cx="1973.92" cy="1133.80" r="5.55" fill="#fff" stroke="#000" stroke-width="3"/>
<circle cx="1982.32" cy="1129.80" r="5.55" fill="#fff" stroke="#000" stroke-width="3"/>
<circle cx="1995.82" cy="1133.91" r="5.55" fill="#fff" stroke="#000" stroke-width="3"/>
<circle cx="2004.22" cy="1132.31" r="5.55" fill="#fff" stroke="#000" stroke-width="3"/>
<circle cx="2027.38" cy="1140.97" r="5.55" fill="#fff" stroke="#000" stroke-width="3"/>
<circle cx="2035.78" cy="1140.97" r="5.55" fill="#fff" stroke="#000" stroke-width="3"/>
<circle cx="2049.28" cy="1142.17" r="5.55" fill="#fff" stroke="#000" stroke-width="3"/>
<circle cx="2057.68" cy="1139.17" r="5.55" fill="#fff" stroke="#000" stroke-width="3"/>
<rect x="1327.50" y="1046.50" width="69.30" height="26.30" fill="#4a4a4a"/>
<rect x="1327.50" y="1080.00" width="69.30" height="26.30" fill="#f4a9b8"/>
<text transform="translate(1409.00 1069.00) scale(0.922 1)" font-size="34.00" text-anchor="start" fill="#111" stroke="#111" stroke-width="0.35">siControl</text>
<text transform="translate(1409.00 1101.50) scale(0.922 1)" font-size="34.00" text-anchor="start" fill="#111" stroke="#111" stroke-width="0.35">siALKBH7</text>
<text transform="translate(1197.50 1212.00) rotate(-90) scale(0.922 1)" font-size="34.00" text-anchor="middle" fill="#111" stroke="#111" stroke-width="0.35"><tspan dy="-0.00" font-size="34.00">mt-tRNA m</tspan><tspan dy="-12.24" font-size="24.82">1</tspan><tspan dy="12.24" font-size="34.00">A</tspan><tspan dy="8.50" font-size="24.82">9</tspan></text>
<text transform="translate(1237.50 1211.00) rotate(-90) scale(0.922 1)" font-size="34.00" text-anchor="middle" fill="#111" stroke="#111" stroke-width="0.35">Misincorporation (%)</text>
<text transform="translate(1350.80 1393.00) rotate(-45) scale(0.922 1)" font-size="34.00" text-anchor="end" fill="#111" stroke="#111" stroke-width="0.35">mt-Ala</text>
<text transform="translate(1404.26 1393.00) rotate(-45) scale(0.922 1)" font-size="34.00" text-anchor="end" fill="#111" stroke="#111" stroke-width="0.35">mt-Arg</text>
<text transform="translate(1457.72 1393.00) rotate(-45) scale(0.922 1)" font-size="34.00" text-anchor="end" fill="#111" stroke="#111" stroke-width="0.35">mt-Asn</text>
<text transform="translate(1511.18 1393.00) rotate(-45) scale(0.922 1)" font-size="34.00" text-anchor="end" fill="#111" stroke="#111" stroke-width="0.35">mt-Asp</text>
<text transform="translate(1564.64 1393.00) rotate(-45) scale(0.922 1)" font-size="34.00" text-anchor="end" fill="#111" stroke="#111" stroke-width="0.35">mt-Glu</text>
<text transform="translate(1618.10 1393.00) rotate(-45) scale(0.922 1)" font-size="34.00" text-anchor="end" fill="#111" stroke="#111" stroke-width="0.35">mt-Gly</text>
<text transform="translate(1671.56 1393.00) rotate(-45) scale(0.922 1)" font-size="34.00" text-anchor="end" fill="#111" stroke="#111" stroke-width="0.35">mt-His</text>
<text transform="translate(1725.02 1393.00) rotate(-45) scale(0.922 1)" font-size="34.00" text-anchor="end" fill="#111" stroke="#111" stroke-width="0.35">mt-Leu2</text>
<text transform="translate(1778.48 1393.00) rotate(-45) scale(0.922 1)" font-size="34.00" text-anchor="end" fill="#111" stroke="#111" stroke-width="0.35">mt-Lys</text>
<text transform="translate(1831.94 1393.00) rotate(-45) scale(0.922 1)" font-size="34.00" text-anchor="end" fill="#111" stroke="#111" stroke-width="0.35">mt-Phe</text>
<text transform="translate(1885.40 1393.00) rotate(-45) scale(0.922 1)" font-size="34.00" text-anchor="end" fill="#111" stroke="#111" stroke-width="0.35">mt-Pro</text>
<text transform="translate(1938.86 1393.00) rotate(-45) scale(0.922 1)" font-size="34.00" text-anchor="end" fill="#111" stroke="#111" stroke-width="0.35">mt-Thr</text>
<text transform="translate(1992.32 1393.00) rotate(-45) scale(0.922 1)" font-size="34.00" text-anchor="end" fill="#111" stroke="#111" stroke-width="0.35">mt-Trp</text>
<text transform="translate(2045.78 1393.00) rotate(-45) scale(0.922 1)" font-size="34.00" text-anchor="end" fill="#111" stroke="#111" stroke-width="0.35">mt-Val</text>
</g>
<g>
<text transform="translate(432.00 1515.00) scale(0.97 1)" font-size="55.00" text-anchor="start" fill="#231f20" font-weight="bold">n</text>
<rect x="618.85" y="1603.90" width="22.35" height="192.09" fill="#4a4a4a"/>
<rect x="643.50" y="1598.31" width="22.35" height="197.69" fill="#f4a9b8"/>
<rect x="678.25" y="1674.78" width="22.35" height="121.22" fill="#4a4a4a"/>
<rect x="702.90" y="1676.64" width="22.35" height="119.36" fill="#f4a9b8"/>
<rect x="737.65" y="1697.15" width="22.35" height="98.84" fill="#4a4a4a"/>
<rect x="762.30" y="1699.02" width="22.35" height="96.98" fill="#f4a9b8"/>
<rect x="797.05" y="1622.56" width="22.35" height="173.44" fill="#4a4a4a"/>
<rect x="821.70" y="1622.56" width="22.35" height="173.44" fill="#f4a9b8"/>
<rect x="856.45" y="1644.93" width="22.35" height="151.06" fill="#4a4a4a"/>
<rect x="881.10" y="1650.53" width="22.35" height="145.47" fill="#f4a9b8"/>
<line x1="612.30" y1="1496.50" x2="612.30" y2="1797.50" stroke="#111" stroke-width="3" stroke-linecap="butt"/>
<line x1="602.80" y1="1796.00" x2="909.00" y2="1796.00" stroke="#111" stroke-width="3" stroke-linecap="butt"/>
<line x1="602.80" y1="1796.00" x2="612.30" y2="1796.00" stroke="#111" stroke-width="3" stroke-linecap="butt"/>
<text transform="translate(594.30 1808.17) scale(0.922 1)" font-size="34.00" text-anchor="end" fill="#111" stroke="#111" stroke-width="0.35">0</text>
<line x1="602.80" y1="1721.40" x2="612.30" y2="1721.40" stroke="#111" stroke-width="3" stroke-linecap="butt"/>
<text transform="translate(594.30 1733.57) scale(0.922 1)" font-size="34.00" text-anchor="end" fill="#111" stroke="#111" stroke-width="0.35">20</text>
<line x1="602.80" y1="1646.80" x2="612.30" y2="1646.80" stroke="#111" stroke-width="3" stroke-linecap="butt"/>
<text transform="translate(594.30 1658.97) scale(0.922 1)" font-size="34.00" text-anchor="end" fill="#111" stroke="#111" stroke-width="0.35">40</text>
<line x1="602.80" y1="1572.20" x2="612.30" y2="1572.20" stroke="#111" stroke-width="3" stroke-linecap="butt"/>
<text transform="translate(594.30 1584.37) scale(0.922 1)" font-size="34.00" text-anchor="end" fill="#111" stroke="#111" stroke-width="0.35">60</text>
<line x1="602.80" y1="1497.60" x2="612.30" y2="1497.60" stroke="#111" stroke-width="3" stroke-linecap="butt"/>
<text transform="translate(594.30 1509.77) scale(0.922 1)" font-size="34.00" text-anchor="end" fill="#111" stroke="#111" stroke-width="0.35">80</text>
<line x1="641.40" y1="1796.00" x2="641.40" y2="1804.00" stroke="#111" stroke-width="3" stroke-linecap="butt"/>
<line x1="700.80" y1="1796.00" x2="700.80" y2="1804.00" stroke="#111" stroke-width="3" stroke-linecap="butt"/>
<line x1="760.20" y1="1796.00" x2="760.20" y2="1804.00" stroke="#111" stroke-width="3" stroke-linecap="butt"/>
<line x1="819.60" y1="1796.00" x2="819.60" y2="1804.00" stroke="#111" stroke-width="3" stroke-linecap="butt"/>
<line x1="879.00" y1="1796.00" x2="879.00" y2="1804.00" stroke="#111" stroke-width="3" stroke-linecap="butt"/>
<circle cx="625.27" cy="1605.31" r="5.55" fill="#fff" stroke="#000" stroke-width="3"/>
<circle cx="636.27" cy="1597.00" r="5.55" fill="#fff" stroke="#000" stroke-width="3"/>
<circle cx="649.67" cy="1599.81" r="5.55" fill="#fff" stroke="#000" stroke-width="3"/>
<circle cx="660.92" cy="1593.51" r="5.55" fill="#fff" stroke="#000" stroke-width="3"/>
<circle cx="684.07" cy="1675.08" r="5.55" fill="#fff" stroke="#000" stroke-width="3"/>
<circle cx="694.77" cy="1674.48" r="5.55" fill="#fff" stroke="#000" stroke-width="3"/>
<circle cx="708.72" cy="1678.64" r="5.55" fill="#fff" stroke="#000" stroke-width="3"/>
<circle cx="719.42" cy="1674.64" r="5.55" fill="#fff" stroke="#000" stroke-width="3"/>
<circle cx="748.82" cy="1684.15" r="5.55" fill="#fff" stroke="#000" stroke-width="3"/>
<circle cx="748.82" cy="1707.65" r="5.55" fill="#fff" stroke="#000" stroke-width="3"/>
<circle cx="768.22" cy="1700.02" r="5.55" fill="#fff" stroke="#000" stroke-width="3"/>
<circle cx="779.47" cy="1692.02" r="5.55" fill="#fff" stroke="#000" stroke-width="3"/>
<circle cx="802.87" cy="1623.76" r="5.55" fill="#fff" stroke="#000" stroke-width="3"/>
<circle cx="813.57" cy="1620.76" r="5.55" fill="#fff" stroke="#000" stroke-width="3"/>
<circle cx="827.52" cy="1623.06" r="5.55" fill="#fff" stroke="#000" stroke-width="3"/>
<circle cx="838.22" cy="1622.06" r="5.55" fill="#fff" stroke="#000" stroke-width="3"/>
<circle cx="867.62" cy="1636.93" r="5.55" fill="#fff" stroke="#000" stroke-width="3"/>
<circle cx="867.62" cy="1653.43" r="5.55" fill="#fff" stroke="#000" stroke-width="3"/>
<circle cx="887.27" cy="1652.13" r="5.55" fill="#fff" stroke="#000" stroke-width="3"/>
<circle cx="898.02" cy="1646.53" r="5.55" fill="#fff" stroke="#000" stroke-width="3"/>
<rect x="619.00" y="1496.50" width="69.30" height="26.30" fill="#4a4a4a"/>
<rect x="619.00" y="1530.00" width="69.30" height="26.30" fill="#f4a9b8"/>
<text transform="translate(700.00 1517.50) scale(0.922 1)" font-size="34.00" text-anchor="start" fill="#111" stroke="#111" stroke-width="0.35">siControl</text>
<text transform="translate(700.00 1551.00) scale(0.922 1)" font-size="34.00" text-anchor="start" fill="#111" stroke="#111" stroke-width="0.35">siALKBH7</text>
<text transform="translate(504.20 1656.00) rotate(-90) scale(0.922 1)" font-size="34.00" text-anchor="middle" fill="#111" stroke="#111" stroke-width="0.35"><tspan dy="-0.00" font-size="34.00">mt-tRNA m</tspan><tspan dy="-12.24" font-size="24.82">1</tspan><tspan dy="12.24" font-size="34.00">G</tspan><tspan dy="8.50" font-size="24.82">9</tspan></text>
<text transform="translate(546.80 1652.50) rotate(-90) scale(0.922 1)" font-size="34.00" text-anchor="middle" fill="#111" stroke="#111" stroke-width="0.35">Misincorporation (%)</text>
<text transform="translate(645.40 1834.50) rotate(-45) scale(0.922 1)" font-size="34.00" text-anchor="end" fill="#111" stroke="#111" stroke-width="0.35">mt-Cys</text>
<text transform="translate(704.80 1834.50) rotate(-45) scale(0.922 1)" font-size="34.00" text-anchor="end" fill="#111" stroke="#111" stroke-width="0.35">mt-Gln</text>
<text transform="translate(764.20 1834.50) rotate(-45) scale(0.922 1)" font-size="34.00" text-anchor="end" fill="#111" stroke="#111" stroke-width="0.35">mt-Ile</text>
<text transform="translate(823.60 1834.50) rotate(-45) scale(0.922 1)" font-size="34.00" text-anchor="end" fill="#111" stroke="#111" stroke-width="0.35">mt-Leu1</text>
<text transform="translate(883.00 1834.50) rotate(-45) scale(0.922 1)" font-size="34.00" text-anchor="end" fill="#111" stroke="#111" stroke-width="0.35">mt-Tyr</text>
</g>
<g>
<text transform="translate(889.00 1516.00) scale(0.97 1)" font-size="55.00" text-anchor="start" fill="#231f20" font-weight="bold">o</text>
<rect x="1053.75" y="1618.44" width="22.35" height="178.56" fill="#4a4a4a"/>
<rect x="1078.40" y="1622.16" width="22.35" height="174.84" fill="#f4a9b8"/>
<rect x="1113.05" y="1605.42" width="22.35" height="191.58" fill="#4a4a4a"/>
<rect x="1137.70" y="1605.42" width="22.35" height="191.58" fill="#f4a9b8"/>
<rect x="1172.25" y="1724.46" width="22.35" height="72.54" fill="#4a4a4a"/>
<rect x="1196.90" y="1718.88" width="22.35" height="78.12" fill="#f4a9b8"/>
<rect x="1231.45" y="1646.34" width="22.35" height="150.66" fill="#4a4a4a"/>
<rect x="1256.10" y="1644.48" width="22.35" height="152.52" fill="#f4a9b8"/>
<line x1="1047.90" y1="1498.00" x2="1047.90" y2="1798.50" stroke="#111" stroke-width="3" stroke-linecap="butt"/>
<line x1="1038.40" y1="1797.00" x2="1284.00" y2="1797.00" stroke="#111" stroke-width="3" stroke-linecap="butt"/>
<line x1="1038.40" y1="1797.00" x2="1047.90" y2="1797.00" stroke="#111" stroke-width="3" stroke-linecap="butt"/>
<text transform="translate(1029.90 1809.17) scale(0.922 1)" font-size="34.00" text-anchor="end" fill="#111" stroke="#111" stroke-width="0.35">0</text>
<line x1="1038.40" y1="1722.60" x2="1047.90" y2="1722.60" stroke="#111" stroke-width="3" stroke-linecap="butt"/>
<text transform="translate(1029.90 1734.77) scale(0.922 1)" font-size="34.00" text-anchor="end" fill="#111" stroke="#111" stroke-width="0.35">20</text>
<line x1="1038.40" y1="1648.20" x2="1047.90" y2="1648.20" stroke="#111" stroke-width="3" stroke-linecap="butt"/>
<text transform="translate(1029.90 1660.37) scale(0.922 1)" font-size="34.00" text-anchor="end" fill="#111" stroke="#111" stroke-width="0.35">40</text>
<line x1="1038.40" y1="1573.80" x2="1047.90" y2="1573.80" stroke="#111" stroke-width="3" stroke-linecap="butt"/>
<text transform="translate(1029.90 1585.97) scale(0.922 1)" font-size="34.00" text-anchor="end" fill="#111" stroke="#111" stroke-width="0.35">60</text>
<line x1="1038.40" y1="1499.40" x2="1047.90" y2="1499.40" stroke="#111" stroke-width="3" stroke-linecap="butt"/>
<text transform="translate(1029.90 1511.57) scale(0.922 1)" font-size="34.00" text-anchor="end" fill="#111" stroke="#111" stroke-width="0.35">80</text>
<line x1="1076.30" y1="1797.00" x2="1076.30" y2="1805.00" stroke="#111" stroke-width="3" stroke-linecap="butt"/>
<line x1="1135.60" y1="1797.00" x2="1135.60" y2="1805.00" stroke="#111" stroke-width="3" stroke-linecap="butt"/>
<line x1="1194.80" y1="1797.00" x2="1194.80" y2="1805.00" stroke="#111" stroke-width="3" stroke-linecap="butt"/>
<line x1="1254.00" y1="1797.00" x2="1254.00" y2="1805.00" stroke="#111" stroke-width="3" stroke-linecap="butt"/>
<circle cx="1059.58" cy="1618.94" r="5.55" fill="#fff" stroke="#000" stroke-width="3"/>
<circle cx="1070.27" cy="1617.94" r="5.55" fill="#fff" stroke="#000" stroke-width="3"/>
<circle cx="1084.22" cy="1623.66" r="5.55" fill="#fff" stroke="#000" stroke-width="3"/>
<circle cx="1094.92" cy="1620.66" r="5.55" fill="#fff" stroke="#000" stroke-width="3"/>
<circle cx="1118.88" cy="1605.72" r="5.55" fill="#fff" stroke="#000" stroke-width="3"/>
<circle cx="1129.57" cy="1605.12" r="5.55" fill="#fff" stroke="#000" stroke-width="3"/>
<circle cx="1143.52" cy="1607.42" r="5.55" fill="#fff" stroke="#000" stroke-width="3"/>
<circle cx="1154.22" cy="1603.42" r="5.55" fill="#fff" stroke="#000" stroke-width="3"/>
<circle cx="1178.08" cy="1725.26" r="5.55" fill="#fff" stroke="#000" stroke-width="3"/>
<circle cx="1188.77" cy="1723.66" r="5.55" fill="#fff" stroke="#000" stroke-width="3"/>
<circle cx="1202.72" cy="1718.88" r="5.55" fill="#fff" stroke="#000" stroke-width="3"/>
<circle cx="1213.42" cy="1718.88" r="5.55" fill="#fff" stroke="#000" stroke-width="3"/>
<circle cx="1237.28" cy="1647.54" r="5.55" fill="#fff" stroke="#000" stroke-width="3"/>
<circle cx="1247.97" cy="1644.54" r="5.55" fill="#fff" stroke="#000" stroke-width="3"/>
<circle cx="1261.92" cy="1644.98" r="5.55" fill="#fff" stroke="#000" stroke-width="3"/>
<circle cx="1272.62" cy="1643.98" r="5.55" fill="#fff" stroke="#000" stroke-width="3"/>
<rect x="1055.00" y="1501.50" width="69.30" height="26.30" fill="#4a4a4a"/>
<rect x="1055.00" y="1535.00" width="69.30" height="26.30" fill="#f4a9b8"/>
<text transform="translate(1136.00 1523.50) scale(0.922 1)" font-size="34.00" text-anchor="start" fill="#111" stroke="#111" stroke-width="0.35">siControl</text>
<text transform="translate(1136.00 1555.00) scale(0.922 1)" font-size="34.00" text-anchor="start" fill="#111" stroke="#111" stroke-width="0.35">siALKBH7</text>
<text transform="translate(941.50 1655.00) rotate(-90) scale(0.922 1)" font-size="34.00" text-anchor="middle" fill="#111" stroke="#111" stroke-width="0.35"><tspan dy="-0.00" font-size="34.00">mt-tRNA m</tspan><tspan dy="-12.24" font-size="24.82">1</tspan><tspan dy="12.24" font-size="34.00">G</tspan><tspan dy="8.50" font-size="24.82">37</tspan></text>
<text transform="translate(982.50 1652.50) rotate(-90) scale(0.922 1)" font-size="34.00" text-anchor="middle" fill="#111" stroke="#111" stroke-width="0.35">Misincorporation (%)</text>
<text transform="translate(1080.30 1835.50) rotate(-45) scale(0.922 1)" font-size="34.00" text-anchor="end" fill="#111" stroke="#111" stroke-width="0.35">mt-Ala</text>
<text transform="translate(1139.60 1835.50) rotate(-45) scale(0.922 1)" font-size="34.00" text-anchor="end" fill="#111" stroke="#111" stroke-width="0.35">mt-Gln</text>
<text transform="translate(1198.80 1835.50) rotate(-45) scale(0.922 1)" font-size="34.00" text-anchor="end" fill="#111" stroke="#111" stroke-width="0.35">mt-Leu2</text>
<text transform="translate(1258.00 1835.50) rotate(-45) scale(0.922 1)" font-size="34.00" text-anchor="end" fill="#111" stroke="#111" stroke-width="0.35">mt-Pro</text>
</g>
<g>
<text transform="translate(1296.00 1516.00) scale(0.97 1)" font-size="55.00" text-anchor="start" fill="#231f20" font-weight="bold">p</text>
<rect x="1446.85" y="1542.44" width="22.35" height="254.36" fill="#4a4a4a"/>
<rect x="1471.50" y="1542.44" width="22.35" height="254.36" fill="#0ba08b"/>
<rect x="1506.35" y="1765.56" width="22.35" height="31.24" fill="#4a4a4a"/>
<rect x="1531.00" y="1767.05" width="22.35" height="29.75" fill="#0ba08b"/>
<rect x="1566.05" y="1752.17" width="22.35" height="44.62" fill="#4a4a4a"/>
<rect x="1590.70" y="1756.64" width="22.35" height="40.16" fill="#0ba08b"/>
<line x1="1441.60" y1="1498.00" x2="1441.60" y2="1798.30" stroke="#111" stroke-width="3" stroke-linecap="butt"/>
<line x1="1432.10" y1="1796.80" x2="1619.50" y2="1796.80" stroke="#111" stroke-width="3" stroke-linecap="butt"/>
<line x1="1432.10" y1="1796.80" x2="1441.60" y2="1796.80" stroke="#111" stroke-width="3" stroke-linecap="butt"/>
<text transform="translate(1423.60 1808.97) scale(0.922 1)" font-size="34.00" text-anchor="end" fill="#111" stroke="#111" stroke-width="0.35">0</text>
<line x1="1432.10" y1="1737.30" x2="1441.60" y2="1737.30" stroke="#111" stroke-width="3" stroke-linecap="butt"/>
<text transform="translate(1423.60 1749.47) scale(0.922 1)" font-size="34.00" text-anchor="end" fill="#111" stroke="#111" stroke-width="0.35">20</text>
<line x1="1432.10" y1="1677.80" x2="1441.60" y2="1677.80" stroke="#111" stroke-width="3" stroke-linecap="butt"/>
<text transform="translate(1423.60 1689.97) scale(0.922 1)" font-size="34.00" text-anchor="end" fill="#111" stroke="#111" stroke-width="0.35">40</text>
<line x1="1432.10" y1="1618.30" x2="1441.60" y2="1618.30" stroke="#111" stroke-width="3" stroke-linecap="butt"/>
<text transform="translate(1423.60 1630.47) scale(0.922 1)" font-size="34.00" text-anchor="end" fill="#111" stroke="#111" stroke-width="0.35">60</text>
<line x1="1432.10" y1="1558.80" x2="1441.60" y2="1558.80" stroke="#111" stroke-width="3" stroke-linecap="butt"/>
<text transform="translate(1423.60 1570.97) scale(0.922 1)" font-size="34.00" text-anchor="end" fill="#111" stroke="#111" stroke-width="0.35">80</text>
<line x1="1432.10" y1="1499.30" x2="1441.60" y2="1499.30" stroke="#111" stroke-width="3" stroke-linecap="butt"/>
<text transform="translate(1423.60 1511.47) scale(0.922 1)" font-size="34.00" text-anchor="end" fill="#111" stroke="#111" stroke-width="0.35">100</text>
<line x1="1469.40" y1="1796.80" x2="1469.40" y2="1804.80" stroke="#111" stroke-width="3" stroke-linecap="butt"/>
<line x1="1528.90" y1="1796.80" x2="1528.90" y2="1804.80" stroke="#111" stroke-width="3" stroke-linecap="butt"/>
<line x1="1588.60" y1="1796.80" x2="1588.60" y2="1804.80" stroke="#111" stroke-width="3" stroke-linecap="butt"/>
<circle cx="1452.68" cy="1542.94" r="5.55" fill="#fff" stroke="#000" stroke-width="3"/>
<circle cx="1463.38" cy="1541.94" r="5.55" fill="#fff" stroke="#000" stroke-width="3"/>
<circle cx="1477.33" cy="1543.94" r="5.55" fill="#fff" stroke="#000" stroke-width="3"/>
<circle cx="1488.02" cy="1540.94" r="5.55" fill="#fff" stroke="#000" stroke-width="3"/>
<circle cx="1512.18" cy="1765.86" r="5.55" fill="#fff" stroke="#000" stroke-width="3"/>
<circle cx="1522.88" cy="1765.26" r="5.55" fill="#fff" stroke="#000" stroke-width="3"/>
<circle cx="1536.83" cy="1769.05" r="5.55" fill="#fff" stroke="#000" stroke-width="3"/>
<circle cx="1547.52" cy="1765.05" r="5.55" fill="#fff" stroke="#000" stroke-width="3"/>
<circle cx="1571.88" cy="1752.97" r="5.55" fill="#fff" stroke="#000" stroke-width="3"/>
<circle cx="1582.57" cy="1751.38" r="5.55" fill="#fff" stroke="#000" stroke-width="3"/>
<circle cx="1596.52" cy="1756.64" r="5.55" fill="#fff" stroke="#000" stroke-width="3"/>
<circle cx="1607.22" cy="1756.64" r="5.55" fill="#fff" stroke="#000" stroke-width="3"/>
<rect x="1501.50" y="1500.00" width="69.30" height="26.30" fill="#4a4a4a"/>
<rect x="1501.50" y="1533.50" width="69.30" height="26.30" fill="#0ba08b"/>
<text transform="translate(1581.50 1519.00) scale(0.922 1)" font-size="34.00" text-anchor="start" fill="#111" stroke="#111" stroke-width="0.35">o/e Control</text>
<text transform="translate(1581.50 1551.50) scale(0.922 1)" font-size="34.00" text-anchor="start" fill="#111" stroke="#111" stroke-width="0.35">o/e ALKBH7</text>
<text transform="translate(1322.50 1655.00) rotate(-90) scale(0.922 1)" font-size="34.00" text-anchor="middle" fill="#111" stroke="#111" stroke-width="0.35"><tspan dy="-0.00" font-size="34.00">mt-tRNA m</tspan><tspan dy="-12.24" font-size="24.82">1</tspan><tspan dy="12.24" font-size="34.00">A</tspan><tspan dy="8.50" font-size="24.82">58</tspan></text>
<text transform="translate(1363.50 1652.50) rotate(-90) scale(0.922 1)" font-size="34.00" text-anchor="middle" fill="#111" stroke="#111" stroke-width="0.35">Misincorporation (%)</text>
<text transform="translate(1473.40 1835.30) rotate(-45) scale(0.922 1)" font-size="34.00" text-anchor="end" fill="#111" stroke="#111" stroke-width="0.35">mt-Leu1</text>
<text transform="translate(1532.90 1835.30) rotate(-45) scale(0.922 1)" font-size="34.00" text-anchor="end" fill="#111" stroke="#111" stroke-width="0.35">mt-Lys</text>
<text transform="translate(1592.60 1835.30) rotate(-45) scale(0.922 1)" font-size="34.00" text-anchor="end" fill="#111" stroke="#111" stroke-width="0.35">mt-Ser1</text>
</g>
<g>
<text transform="translate(1747.50 1512.00) scale(0.97 1)" font-size="55.00" text-anchor="start" fill="#231f20" font-weight="bold">q</text>
<rect x="1899.65" y="1542.90" width="22.35" height="253.30" fill="#4a4a4a"/>
<rect x="1924.30" y="1551.84" width="22.35" height="244.36" fill="#0ba08b"/>
<rect x="1958.95" y="1595.05" width="22.35" height="201.15" fill="#4a4a4a"/>
<rect x="1983.60" y="1595.05" width="22.35" height="201.15" fill="#0ba08b"/>
<line x1="1893.50" y1="1496.75" x2="1893.50" y2="1797.70" stroke="#111" stroke-width="3" stroke-linecap="butt"/>
<line x1="1884.00" y1="1796.20" x2="2013.00" y2="1796.20" stroke="#111" stroke-width="3" stroke-linecap="butt"/>
<line x1="1884.00" y1="1796.20" x2="1893.50" y2="1796.20" stroke="#111" stroke-width="3" stroke-linecap="butt"/>
<text transform="translate(1875.50 1808.37) scale(0.922 1)" font-size="34.00" text-anchor="end" fill="#111" stroke="#111" stroke-width="0.35">0</text>
<line x1="1884.00" y1="1736.60" x2="1893.50" y2="1736.60" stroke="#111" stroke-width="3" stroke-linecap="butt"/>
<text transform="translate(1875.50 1748.77) scale(0.922 1)" font-size="34.00" text-anchor="end" fill="#111" stroke="#111" stroke-width="0.35">20</text>
<line x1="1884.00" y1="1677.00" x2="1893.50" y2="1677.00" stroke="#111" stroke-width="3" stroke-linecap="butt"/>
<text transform="translate(1875.50 1689.17) scale(0.922 1)" font-size="34.00" text-anchor="end" fill="#111" stroke="#111" stroke-width="0.35">40</text>
<line x1="1884.00" y1="1617.40" x2="1893.50" y2="1617.40" stroke="#111" stroke-width="3" stroke-linecap="butt"/>
<text transform="translate(1875.50 1629.57) scale(0.922 1)" font-size="34.00" text-anchor="end" fill="#111" stroke="#111" stroke-width="0.35">60</text>
<line x1="1884.00" y1="1557.80" x2="1893.50" y2="1557.80" stroke="#111" stroke-width="3" stroke-linecap="butt"/>
<text transform="translate(1875.50 1569.97) scale(0.922 1)" font-size="34.00" text-anchor="end" fill="#111" stroke="#111" stroke-width="0.35">80</text>
<line x1="1884.00" y1="1498.20" x2="1893.50" y2="1498.20" stroke="#111" stroke-width="3" stroke-linecap="butt"/>
<text transform="translate(1875.50 1510.37) scale(0.922 1)" font-size="34.00" text-anchor="end" fill="#111" stroke="#111" stroke-width="0.35">100</text>
<line x1="1922.20" y1="1796.20" x2="1922.20" y2="1804.20" stroke="#111" stroke-width="3" stroke-linecap="butt"/>
<line x1="1981.50" y1="1796.20" x2="1981.50" y2="1804.20" stroke="#111" stroke-width="3" stroke-linecap="butt"/>
<circle cx="1905.48" cy="1543.40" r="5.55" fill="#fff" stroke="#000" stroke-width="3"/>
<circle cx="1916.17" cy="1542.40" r="5.55" fill="#fff" stroke="#000" stroke-width="3"/>
<circle cx="1930.12" cy="1553.34" r="5.55" fill="#fff" stroke="#000" stroke-width="3"/>
<circle cx="1940.82" cy="1550.34" r="5.55" fill="#fff" stroke="#000" stroke-width="3"/>
<circle cx="1964.78" cy="1595.35" r="5.55" fill="#fff" stroke="#000" stroke-width="3"/>
<circle cx="1975.47" cy="1594.75" r="5.55" fill="#fff" stroke="#000" stroke-width="3"/>
<circle cx="1989.42" cy="1597.05" r="5.55" fill="#fff" stroke="#000" stroke-width="3"/>
<circle cx="2000.12" cy="1593.05" r="5.55" fill="#fff" stroke="#000" stroke-width="3"/>
<text transform="translate(1773.50 1654.00) rotate(-90) scale(0.922 1)" font-size="34.00" text-anchor="middle" fill="#111" stroke="#111" stroke-width="0.35"><tspan dy="-0.00" font-size="34.00">mt-tRNA m</tspan><tspan dy="-12.24" font-size="24.82">3</tspan><tspan dy="12.24" font-size="34.00">C</tspan><tspan dy="8.50" font-size="24.82">32</tspan></text>
<text transform="translate(1813.00 1652.50) rotate(-90) scale(0.922 1)" font-size="34.00" text-anchor="middle" fill="#111" stroke="#111" stroke-width="0.35">Misincorporation (%)</text>
<text transform="translate(1926.20 1834.70) rotate(-45) scale(0.922 1)" font-size="34.00" text-anchor="end" fill="#111" stroke="#111" stroke-width="0.35">mt-Ser1</text>
<text transform="translate(1985.50 1834.70) rotate(-45) scale(0.922 1)" font-size="34.00" text-anchor="end" fill="#111" stroke="#111" stroke-width="0.35">mt-Thr</text>
</g>
<g>
<text transform="translate(432.00 1888.50) scale(0.97 1)" font-size="55.00" text-anchor="start" fill="#231f20" font-weight="bold">r</text>
<rect x="503.35" y="1981.61" width="20.10" height="242.19" fill="#4a4a4a"/>
<rect x="525.25" y="1983.11" width="20.10" height="240.70" fill="#0ba08b"/>
<rect x="556.65" y="1962.18" width="20.10" height="261.62" fill="#4a4a4a"/>
<rect x="578.55" y="1969.65" width="20.10" height="254.15" fill="#0ba08b"/>
<rect x="609.95" y="2010.02" width="20.10" height="213.79" fill="#4a4a4a"/>
<rect x="631.85" y="2008.52" width="20.10" height="215.28" fill="#0ba08b"/>
<rect x="663.25" y="1966.66" width="20.10" height="257.14" fill="#4a4a4a"/>
<rect x="685.15" y="1968.16" width="20.10" height="255.65" fill="#0ba08b"/>
<rect x="716.55" y="1953.21" width="20.10" height="270.60" fill="#4a4a4a"/>
<rect x="738.45" y="1954.70" width="20.10" height="269.10" fill="#0ba08b"/>
<rect x="769.85" y="1974.14" width="20.10" height="249.67" fill="#4a4a4a"/>
<rect x="791.75" y="1975.63" width="20.10" height="248.17" fill="#0ba08b"/>
<rect x="823.15" y="1960.68" width="20.10" height="263.12" fill="#4a4a4a"/>
<rect x="845.05" y="1962.18" width="20.10" height="261.62" fill="#0ba08b"/>
<rect x="876.45" y="1996.56" width="20.10" height="227.24" fill="#4a4a4a"/>
<rect x="898.35" y="1996.56" width="20.10" height="227.24" fill="#0ba08b"/>
<rect x="929.75" y="2001.05" width="20.10" height="222.76" fill="#4a4a4a"/>
<rect x="951.65" y="2004.04" width="20.10" height="219.77" fill="#0ba08b"/>
<rect x="983.05" y="1959.19" width="20.10" height="264.62" fill="#4a4a4a"/>
<rect x="1004.95" y="1960.68" width="20.10" height="263.12" fill="#0ba08b"/>
<rect x="1036.35" y="1971.15" width="20.10" height="252.66" fill="#4a4a4a"/>
<rect x="1058.25" y="1972.64" width="20.10" height="251.16" fill="#0ba08b"/>
<rect x="1089.65" y="1954.70" width="20.10" height="269.10" fill="#4a4a4a"/>
<rect x="1111.55" y="1954.70" width="20.10" height="269.10" fill="#0ba08b"/>
<rect x="1142.95" y="1959.19" width="20.10" height="264.62" fill="#4a4a4a"/>
<rect x="1164.85" y="1959.19" width="20.10" height="264.62" fill="#0ba08b"/>
<rect x="1196.25" y="1963.67" width="20.10" height="260.13" fill="#4a4a4a"/>
<rect x="1218.15" y="1963.67" width="20.10" height="260.13" fill="#0ba08b"/>
<line x1="498.40" y1="1923.00" x2="498.40" y2="2225.30" stroke="#111" stroke-width="3" stroke-linecap="butt"/>
<line x1="488.90" y1="2223.80" x2="1243.50" y2="2223.80" stroke="#111" stroke-width="3" stroke-linecap="butt"/>
<line x1="488.90" y1="2223.80" x2="498.40" y2="2223.80" stroke="#111" stroke-width="3" stroke-linecap="butt"/>
<text transform="translate(480.40 2235.97) scale(0.922 1)" font-size="34.00" text-anchor="end" fill="#111" stroke="#111" stroke-width="0.35">0</text>
<line x1="488.90" y1="2164.00" x2="498.40" y2="2164.00" stroke="#111" stroke-width="3" stroke-linecap="butt"/>
<text transform="translate(480.40 2176.17) scale(0.922 1)" font-size="34.00" text-anchor="end" fill="#111" stroke="#111" stroke-width="0.35">20</text>
<line x1="488.90" y1="2104.20" x2="498.40" y2="2104.20" stroke="#111" stroke-width="3" stroke-linecap="butt"/>
<text transform="translate(480.40 2116.37) scale(0.922 1)" font-size="34.00" text-anchor="end" fill="#111" stroke="#111" stroke-width="0.35">40</text>
<line x1="488.90" y1="2044.40" x2="498.40" y2="2044.40" stroke="#111" stroke-width="3" stroke-linecap="butt"/>
<text transform="translate(480.40 2056.57) scale(0.922 1)" font-size="34.00" text-anchor="end" fill="#111" stroke="#111" stroke-width="0.35">60</text>
<line x1="488.90" y1="1984.60" x2="498.40" y2="1984.60" stroke="#111" stroke-width="3" stroke-linecap="butt"/>
<text transform="translate(480.40 1996.77) scale(0.922 1)" font-size="34.00" text-anchor="end" fill="#111" stroke="#111" stroke-width="0.35">80</text>
<line x1="488.90" y1="1924.80" x2="498.40" y2="1924.80" stroke="#111" stroke-width="3" stroke-linecap="butt"/>
<text transform="translate(480.40 1936.97) scale(0.922 1)" font-size="34.00" text-anchor="end" fill="#111" stroke="#111" stroke-width="0.35">100</text>
<line x1="523.60" y1="2223.80" x2="523.60" y2="2231.80" stroke="#111" stroke-width="3" stroke-linecap="butt"/>
<line x1="576.90" y1="2223.80" x2="576.90" y2="2231.80" stroke="#111" stroke-width="3" stroke-linecap="butt"/>
<line x1="630.20" y1="2223.80" x2="630.20" y2="2231.80" stroke="#111" stroke-width="3" stroke-linecap="butt"/>
<line x1="683.50" y1="2223.80" x2="683.50" y2="2231.80" stroke="#111" stroke-width="3" stroke-linecap="butt"/>
<line x1="736.80" y1="2223.80" x2="736.80" y2="2231.80" stroke="#111" stroke-width="3" stroke-linecap="butt"/>
<line x1="790.10" y1="2223.80" x2="790.10" y2="2231.80" stroke="#111" stroke-width="3" stroke-linecap="butt"/>
<line x1="843.40" y1="2223.80" x2="843.40" y2="2231.80" stroke="#111" stroke-width="3" stroke-linecap="butt"/>
<line x1="896.70" y1="2223.80" x2="896.70" y2="2231.80" stroke="#111" stroke-width="3" stroke-linecap="butt"/>
<line x1="950.00" y1="2223.80" x2="950.00" y2="2231.80" stroke="#111" stroke-width="3" stroke-linecap="butt"/>
<line x1="1003.30" y1="2223.80" x2="1003.30" y2="2231.80" stroke="#111" stroke-width="3" stroke-linecap="butt"/>
<line x1="1056.60" y1="2223.80" x2="1056.60" y2="2231.80" stroke="#111" stroke-width="3" stroke-linecap="butt"/>
<line x1="1109.90" y1="2223.80" x2="1109.90" y2="2231.80" stroke="#111" stroke-width="3" stroke-linecap="butt"/>
<line x1="1163.20" y1="2223.80" x2="1163.20" y2="2231.80" stroke="#111" stroke-width="3" stroke-linecap="butt"/>
<line x1="1216.50" y1="2223.80" x2="1216.50" y2="2231.80" stroke="#111" stroke-width="3" stroke-linecap="butt"/>
<circle cx="509.20" cy="1982.11" r="5.55" fill="#fff" stroke="#000" stroke-width="3"/>
<circle cx="517.60" cy="1981.11" r="5.55" fill="#fff" stroke="#000" stroke-width="3"/>
<circle cx="531.10" cy="1984.61" r="5.55" fill="#fff" stroke="#000" stroke-width="3"/>
<circle cx="539.50" cy="1981.61" r="5.55" fill="#fff" stroke="#000" stroke-width="3"/>
<circle cx="562.50" cy="1962.48" r="5.55" fill="#fff" stroke="#000" stroke-width="3"/>
<circle cx="570.90" cy="1961.88" r="5.55" fill="#fff" stroke="#000" stroke-width="3"/>
<circle cx="584.40" cy="1971.65" r="5.55" fill="#fff" stroke="#000" stroke-width="3"/>
<circle cx="592.80" cy="1967.65" r="5.55" fill="#fff" stroke="#000" stroke-width="3"/>
<circle cx="615.80" cy="2010.82" r="5.55" fill="#fff" stroke="#000" stroke-width="3"/>
<circle cx="624.20" cy="2009.22" r="5.55" fill="#fff" stroke="#000" stroke-width="3"/>
<circle cx="637.70" cy="2008.52" r="5.55" fill="#fff" stroke="#000" stroke-width="3"/>
<circle cx="646.10" cy="2008.52" r="5.55" fill="#fff" stroke="#000" stroke-width="3"/>
<circle cx="669.10" cy="1967.86" r="5.55" fill="#fff" stroke="#000" stroke-width="3"/>
<circle cx="677.50" cy="1964.86" r="5.55" fill="#fff" stroke="#000" stroke-width="3"/>
<circle cx="691.00" cy="1968.66" r="5.55" fill="#fff" stroke="#000" stroke-width="3"/>
<circle cx="699.40" cy="1967.66" r="5.55" fill="#fff" stroke="#000" stroke-width="3"/>
<circle cx="722.40" cy="1954.71" r="5.55" fill="#fff" stroke="#000" stroke-width="3"/>
<circle cx="730.80" cy="1951.71" r="5.55" fill="#fff" stroke="#000" stroke-width="3"/>
<circle cx="744.30" cy="1955.00" r="5.55" fill="#fff" stroke="#000" stroke-width="3"/>
<circle cx="752.70" cy="1954.40" r="5.55" fill="#fff" stroke="#000" stroke-width="3"/>
<circle cx="775.70" cy="1976.14" r="5.55" fill="#fff" stroke="#000" stroke-width="3"/>
<circle cx="784.10" cy="1972.14" r="5.55" fill="#fff" stroke="#000" stroke-width="3"/>
<circle cx="797.60" cy="1976.43" r="5.55" fill="#fff" stroke="#000" stroke-width="3"/>
<circle cx="806.00" cy="1974.83" r="5.55" fill="#fff" stroke="#000" stroke-width="3"/>
<circle cx="829.00" cy="1960.68" r="5.55" fill="#fff" stroke="#000" stroke-width="3"/>
<circle cx="837.40" cy="1960.68" r="5.55" fill="#fff" stroke="#000" stroke-width="3"/>
<circle cx="850.90" cy="1963.38" r="5.55" fill="#fff" stroke="#000" stroke-width="3"/>
<circle cx="859.30" cy="1960.38" r="5.55" fill="#fff" stroke="#000" stroke-width="3"/>
<circle cx="882.30" cy="1997.06" r="5.55" fill="#fff" stroke="#000" stroke-width="3"/>
<circle cx="890.70" cy="1996.06" r="5.55" fill="#fff" stroke="#000" stroke-width="3"/>
<circle cx="904.20" cy="1998.06" r="5.55" fill="#fff" stroke="#000" stroke-width="3"/>
<circle cx="912.60" cy="1995.06" r="5.55" fill="#fff" stroke="#000" stroke-width="3"/>
<circle cx="935.60" cy="2001.35" r="5.55" fill="#fff" stroke="#000" stroke-width="3"/>
<circle cx="944.00" cy="2000.75" r="5.55" fill="#fff" stroke="#000" stroke-width="3"/>
<circle cx="957.50" cy="2006.04" r="5.55" fill="#fff" stroke="#000" stroke-width="3"/>
<circle cx="965.90" cy="2002.04" r="5.55" fill="#fff" stroke="#000" stroke-width="3"/>
<circle cx="988.90" cy="1959.99" r="5.55" fill="#fff" stroke="#000" stroke-width="3"/>
<circle cx="997.30" cy="1958.39" r="5.55" fill="#fff" stroke="#000" stroke-width="3"/>
<circle cx="1010.80" cy="1960.68" r="5.55" fill="#fff" stroke="#000" stroke-width="3"/>
<circle cx="1019.20" cy="1960.68" r="5.55" fill="#fff" stroke="#000" stroke-width="3"/>
<circle cx="1042.20" cy="1972.35" r="5.55" fill="#fff" stroke="#000" stroke-width="3"/>
<circle cx="1050.60" cy="1969.35" r="5.55" fill="#fff" stroke="#000" stroke-width="3"/>
<circle cx="1064.10" cy="1973.14" r="5.55" fill="#fff" stroke="#000" stroke-width="3"/>
<circle cx="1072.50" cy="1972.14" r="5.55" fill="#fff" stroke="#000" stroke-width="3"/>
<circle cx="1095.50" cy="1956.20" r="5.55" fill="#fff" stroke="#000" stroke-width="3"/>
<circle cx="1103.90" cy="1953.20" r="5.55" fill="#fff" stroke="#000" stroke-width="3"/>
<circle cx="1117.40" cy="1955.00" r="5.55" fill="#fff" stroke="#000" stroke-width="3"/>
<circle cx="1125.80" cy="1954.40" r="5.55" fill="#fff" stroke="#000" stroke-width="3"/>
<circle cx="1148.80" cy="1961.19" r="5.55" fill="#fff" stroke="#000" stroke-width="3"/>
<circle cx="1157.20" cy="1957.19" r="5.55" fill="#fff" stroke="#000" stroke-width="3"/>
<circle cx="1170.70" cy="1959.99" r="5.55" fill="#fff" stroke="#000" stroke-width="3"/>
<circle cx="1179.10" cy="1958.39" r="5.55" fill="#fff" stroke="#000" stroke-width="3"/>
<circle cx="1202.10" cy="1963.67" r="5.55" fill="#fff" stroke="#000" stroke-width="3"/>
<circle cx="1210.50" cy="1963.67" r="5.55" fill="#fff" stroke="#000" stroke-width="3"/>
<circle cx="1224.00" cy="1964.87" r="5.55" fill="#fff" stroke="#000" stroke-width="3"/>
<circle cx="1232.40" cy="1961.87" r="5.55" fill="#fff" stroke="#000" stroke-width="3"/>
<rect x="190.00" y="2241.00" width="69.30" height="26.30" fill="#4a4a4a"/>
<rect x="190.00" y="2275.00" width="69.30" height="26.30" fill="#0ba08b"/>
<text transform="translate(271.00 2261.00) scale(0.922 1)" font-size="34.00" text-anchor="start" fill="#111" stroke="#111" stroke-width="0.35">o/e Control</text>
<text transform="translate(271.00 2293.50) scale(0.922 1)" font-size="34.00" text-anchor="start" fill="#111" stroke="#111" stroke-width="0.35">o/e ALKBH7</text>
<text transform="translate(378.50 2081.00) rotate(-90) scale(0.922 1)" font-size="34.00" text-anchor="middle" fill="#111" stroke="#111" stroke-width="0.35"><tspan dy="-0.00" font-size="34.00">mt-tRNA m</tspan><tspan dy="-12.24" font-size="24.82">1</tspan><tspan dy="12.24" font-size="34.00">A</tspan><tspan dy="8.50" font-size="24.82">9</tspan></text>
<text transform="translate(421.00 2080.00) rotate(-90) scale(0.922 1)" font-size="34.00" text-anchor="middle" fill="#111" stroke="#111" stroke-width="0.35">Misincorporation (%)</text>
<text transform="translate(527.60 2262.30) rotate(-45) scale(0.922 1)" font-size="34.00" text-anchor="end" fill="#111" stroke="#111" stroke-width="0.35">mt-Ala</text>
<text transform="translate(580.90 2262.30) rotate(-45) scale(0.922 1)" font-size="34.00" text-anchor="end" fill="#111" stroke="#111" stroke-width="0.35">mt-Arg</text>
<text transform="translate(634.20 2262.30) rotate(-45) scale(0.922 1)" font-size="34.00" text-anchor="end" fill="#111" stroke="#111" stroke-width="0.35">mt-Asn</text>
<text transform="translate(687.50 2262.30) rotate(-45) scale(0.922 1)" font-size="34.00" text-anchor="end" fill="#111" stroke="#111" stroke-width="0.35">mt-Asp</text>
<text transform="translate(740.80 2262.30) rotate(-45) scale(0.922 1)" font-size="34.00" text-anchor="end" fill="#111" stroke="#111" stroke-width="0.35">mt-Glu</text>
<text transform="translate(794.10 2262.30) rotate(-45) scale(0.922 1)" font-size="34.00" text-anchor="end" fill="#111" stroke="#111" stroke-width="0.35">mt-Gly</text>
<text transform="translate(847.40 2262.30) rotate(-45) scale(0.922 1)" font-size="34.00" text-anchor="end" fill="#111" stroke="#111" stroke-width="0.35">mt-His</text>
<text transform="translate(900.70 2262.30) rotate(-45) scale(0.922 1)" font-size="34.00" text-anchor="end" fill="#111" stroke="#111" stroke-width="0.35">mt-Leu2</text>
<text transform="translate(954.00 2262.30) rotate(-45) scale(0.922 1)" font-size="34.00" text-anchor="end" fill="#111" stroke="#111" stroke-width="0.35">mt-Lys</text>
<text transform="translate(1007.30 2262.30) rotate(-45) scale(0.922 1)" font-size="34.00" text-anchor="end" fill="#111" stroke="#111" stroke-width="0.35">mt-Phe</text>
<text transform="translate(1060.60 2262.30) rotate(-45) scale(0.922 1)" font-size="34.00" text-anchor="end" fill="#111" stroke="#111" stroke-width="0.35">mt-Pro</text>
<text transform="translate(1113.90 2262.30) rotate(-45) scale(0.922 1)" font-size="34.00" text-anchor="end" fill="#111" stroke="#111" stroke-width="0.35">mt-Thr</text>
<text transform="translate(1167.20 2262.30) rotate(-45) scale(0.922 1)" font-size="34.00" text-anchor="end" fill="#111" stroke="#111" stroke-width="0.35">mt-Trp</text>
<text transform="translate(1220.50 2262.30) rotate(-45) scale(0.922 1)" font-size="34.00" text-anchor="end" fill="#111" stroke="#111" stroke-width="0.35">mt-Val</text>
</g>
<g>
<text transform="translate(1259.50 1928.00) scale(0.97 1)" font-size="55.00" text-anchor="start" fill="#231f20" font-weight="bold">s</text>
<rect x="1390.45" y="2035.65" width="22.35" height="186.75" fill="#4a4a4a"/>
<rect x="1415.10" y="2031.92" width="22.35" height="190.48" fill="#0ba08b"/>
<rect x="1450.05" y="2073.00" width="22.35" height="149.40" fill="#4a4a4a"/>
<rect x="1474.70" y="2073.00" width="22.35" height="149.40" fill="#0ba08b"/>
<rect x="1509.65" y="2140.23" width="22.35" height="82.17" fill="#4a4a4a"/>
<rect x="1534.30" y="2142.10" width="22.35" height="80.30" fill="#0ba08b"/>
<rect x="1569.25" y="2052.46" width="22.35" height="169.94" fill="#4a4a4a"/>
<rect x="1593.90" y="2052.46" width="22.35" height="169.94" fill="#0ba08b"/>
<rect x="1628.85" y="2080.47" width="22.35" height="141.93" fill="#4a4a4a"/>
<rect x="1653.50" y="2076.74" width="22.35" height="145.66" fill="#0ba08b"/>
<line x1="1385.40" y1="1922.25" x2="1385.40" y2="2223.90" stroke="#111" stroke-width="3" stroke-linecap="butt"/>
<line x1="1375.90" y1="2222.40" x2="1681.50" y2="2222.40" stroke="#111" stroke-width="3" stroke-linecap="butt"/>
<line x1="1375.90" y1="2222.40" x2="1385.40" y2="2222.40" stroke="#111" stroke-width="3" stroke-linecap="butt"/>
<text transform="translate(1367.40 2234.57) scale(0.922 1)" font-size="34.00" text-anchor="end" fill="#111" stroke="#111" stroke-width="0.35">0</text>
<line x1="1375.90" y1="2147.70" x2="1385.40" y2="2147.70" stroke="#111" stroke-width="3" stroke-linecap="butt"/>
<text transform="translate(1367.40 2159.87) scale(0.922 1)" font-size="34.00" text-anchor="end" fill="#111" stroke="#111" stroke-width="0.35">20</text>
<line x1="1375.90" y1="2073.00" x2="1385.40" y2="2073.00" stroke="#111" stroke-width="3" stroke-linecap="butt"/>
<text transform="translate(1367.40 2085.17) scale(0.922 1)" font-size="34.00" text-anchor="end" fill="#111" stroke="#111" stroke-width="0.35">40</text>
<line x1="1375.90" y1="1998.30" x2="1385.40" y2="1998.30" stroke="#111" stroke-width="3" stroke-linecap="butt"/>
<text transform="translate(1367.40 2010.47) scale(0.922 1)" font-size="34.00" text-anchor="end" fill="#111" stroke="#111" stroke-width="0.35">60</text>
<line x1="1375.90" y1="1923.60" x2="1385.40" y2="1923.60" stroke="#111" stroke-width="3" stroke-linecap="butt"/>
<text transform="translate(1367.40 1935.77) scale(0.922 1)" font-size="34.00" text-anchor="end" fill="#111" stroke="#111" stroke-width="0.35">80</text>
<line x1="1413.00" y1="2222.40" x2="1413.00" y2="2230.40" stroke="#111" stroke-width="3" stroke-linecap="butt"/>
<line x1="1472.60" y1="2222.40" x2="1472.60" y2="2230.40" stroke="#111" stroke-width="3" stroke-linecap="butt"/>
<line x1="1532.20" y1="2222.40" x2="1532.20" y2="2230.40" stroke="#111" stroke-width="3" stroke-linecap="butt"/>
<line x1="1591.80" y1="2222.40" x2="1591.80" y2="2230.40" stroke="#111" stroke-width="3" stroke-linecap="butt"/>
<line x1="1651.40" y1="2222.40" x2="1651.40" y2="2230.40" stroke="#111" stroke-width="3" stroke-linecap="butt"/>
<circle cx="1396.28" cy="2036.15" r="5.55" fill="#fff" stroke="#000" stroke-width="3"/>
<circle cx="1406.97" cy="2035.15" r="5.55" fill="#fff" stroke="#000" stroke-width="3"/>
<circle cx="1420.92" cy="2033.42" r="5.55" fill="#fff" stroke="#000" stroke-width="3"/>
<circle cx="1431.62" cy="2030.42" r="5.55" fill="#fff" stroke="#000" stroke-width="3"/>
<circle cx="1455.88" cy="2073.30" r="5.55" fill="#fff" stroke="#000" stroke-width="3"/>
<circle cx="1466.57" cy="2072.70" r="5.55" fill="#fff" stroke="#000" stroke-width="3"/>
<circle cx="1480.52" cy="2075.00" r="5.55" fill="#fff" stroke="#000" stroke-width="3"/>
<circle cx="1491.22" cy="2071.00" r="5.55" fill="#fff" stroke="#000" stroke-width="3"/>
<circle cx="1515.48" cy="2141.03" r="5.55" fill="#fff" stroke="#000" stroke-width="3"/>
<circle cx="1526.17" cy="2139.43" r="5.55" fill="#fff" stroke="#000" stroke-width="3"/>
<circle cx="1540.12" cy="2142.10" r="5.55" fill="#fff" stroke="#000" stroke-width="3"/>
<circle cx="1550.82" cy="2142.10" r="5.55" fill="#fff" stroke="#000" stroke-width="3"/>
<circle cx="1575.08" cy="2053.66" r="5.55" fill="#fff" stroke="#000" stroke-width="3"/>
<circle cx="1585.77" cy="2050.66" r="5.55" fill="#fff" stroke="#000" stroke-width="3"/>
<circle cx="1599.72" cy="2052.96" r="5.55" fill="#fff" stroke="#000" stroke-width="3"/>
<circle cx="1610.42" cy="2051.96" r="5.55" fill="#fff" stroke="#000" stroke-width="3"/>
<circle cx="1634.68" cy="2081.97" r="5.55" fill="#fff" stroke="#000" stroke-width="3"/>
<circle cx="1645.38" cy="2078.97" r="5.55" fill="#fff" stroke="#000" stroke-width="3"/>
<circle cx="1659.33" cy="2077.04" r="5.55" fill="#fff" stroke="#000" stroke-width="3"/>
<circle cx="1670.02" cy="2076.43" r="5.55" fill="#fff" stroke="#000" stroke-width="3"/>
<rect x="1397.00" y="1924.50" width="69.30" height="26.30" fill="#4a4a4a"/>
<rect x="1397.00" y="1957.50" width="69.30" height="26.30" fill="#0ba08b"/>
<text transform="translate(1477.50 1943.50) scale(0.922 1)" font-size="34.00" text-anchor="start" fill="#111" stroke="#111" stroke-width="0.35">o/e Control</text>
<text transform="translate(1477.50 1976.00) scale(0.922 1)" font-size="34.00" text-anchor="start" fill="#111" stroke="#111" stroke-width="0.35">o/e ALKBH7</text>
<text transform="translate(1277.50 2080.00) rotate(-90) scale(0.922 1)" font-size="34.00" text-anchor="middle" fill="#111" stroke="#111" stroke-width="0.35"><tspan dy="-0.00" font-size="34.00">mt-tRNA m</tspan><tspan dy="-12.24" font-size="24.82">1</tspan><tspan dy="12.24" font-size="34.00">G</tspan><tspan dy="8.50" font-size="24.82">9</tspan></text>
<text transform="translate(1321.00 2077.00) rotate(-90) scale(0.922 1)" font-size="34.00" text-anchor="middle" fill="#111" stroke="#111" stroke-width="0.35">Misincorporation (%)</text>
<text transform="translate(1417.00 2260.90) rotate(-45) scale(0.922 1)" font-size="34.00" text-anchor="end" fill="#111" stroke="#111" stroke-width="0.35">mt-Cys</text>
<text transform="translate(1476.60 2260.90) rotate(-45) scale(0.922 1)" font-size="34.00" text-anchor="end" fill="#111" stroke="#111" stroke-width="0.35">mt-Gln</text>
<text transform="translate(1536.20 2260.90) rotate(-45) scale(0.922 1)" font-size="34.00" text-anchor="end" fill="#111" stroke="#111" stroke-width="0.35">mt-Ile</text>
<text transform="translate(1595.80 2260.90) rotate(-45) scale(0.922 1)" font-size="34.00" text-anchor="end" fill="#111" stroke="#111" stroke-width="0.35">mt-Leu1</text>
<text transform="translate(1655.40 2260.90) rotate(-45) scale(0.922 1)" font-size="34.00" text-anchor="end" fill="#111" stroke="#111" stroke-width="0.35">mt-Tyr</text>
</g>
<g>
<text transform="translate(1691.00 1926.00) scale(0.97 1)" font-size="55.00" text-anchor="start" fill="#231f20" font-weight="bold">t</text>
<rect x="1831.45" y="2049.16" width="22.35" height="172.04" fill="#4a4a4a"/>
<rect x="1856.10" y="2051.03" width="22.35" height="170.17" fill="#0ba08b"/>
<rect x="1890.95" y="2022.98" width="22.35" height="198.22" fill="#4a4a4a"/>
<rect x="1915.60" y="2024.85" width="22.35" height="196.35" fill="#0ba08b"/>
<rect x="1950.45" y="2140.79" width="22.35" height="80.41" fill="#4a4a4a"/>
<rect x="1975.10" y="2140.79" width="22.35" height="80.41" fill="#0ba08b"/>
<rect x="2010.05" y="2075.34" width="22.35" height="145.86" fill="#4a4a4a"/>
<rect x="2034.70" y="2075.34" width="22.35" height="145.86" fill="#0ba08b"/>
<line x1="1825.90" y1="1920.50" x2="1825.90" y2="2222.70" stroke="#111" stroke-width="3" stroke-linecap="butt"/>
<line x1="1816.40" y1="2221.20" x2="2062.20" y2="2221.20" stroke="#111" stroke-width="3" stroke-linecap="butt"/>
<line x1="1816.40" y1="2221.20" x2="1825.90" y2="2221.20" stroke="#111" stroke-width="3" stroke-linecap="butt"/>
<text transform="translate(1807.90 2233.37) scale(0.922 1)" font-size="34.00" text-anchor="end" fill="#111" stroke="#111" stroke-width="0.35">0</text>
<line x1="1816.40" y1="2146.40" x2="1825.90" y2="2146.40" stroke="#111" stroke-width="3" stroke-linecap="butt"/>
<text transform="translate(1807.90 2158.57) scale(0.922 1)" font-size="34.00" text-anchor="end" fill="#111" stroke="#111" stroke-width="0.35">20</text>
<line x1="1816.40" y1="2071.60" x2="1825.90" y2="2071.60" stroke="#111" stroke-width="3" stroke-linecap="butt"/>
<text transform="translate(1807.90 2083.77) scale(0.922 1)" font-size="34.00" text-anchor="end" fill="#111" stroke="#111" stroke-width="0.35">40</text>
<line x1="1816.40" y1="1996.80" x2="1825.90" y2="1996.80" stroke="#111" stroke-width="3" stroke-linecap="butt"/>
<text transform="translate(1807.90 2008.97) scale(0.922 1)" font-size="34.00" text-anchor="end" fill="#111" stroke="#111" stroke-width="0.35">60</text>
<line x1="1816.40" y1="1922.00" x2="1825.90" y2="1922.00" stroke="#111" stroke-width="3" stroke-linecap="butt"/>
<text transform="translate(1807.90 1934.17) scale(0.922 1)" font-size="34.00" text-anchor="end" fill="#111" stroke="#111" stroke-width="0.35">80</text>
<line x1="1854.00" y1="2221.20" x2="1854.00" y2="2229.20" stroke="#111" stroke-width="3" stroke-linecap="butt"/>
<line x1="1913.50" y1="2221.20" x2="1913.50" y2="2229.20" stroke="#111" stroke-width="3" stroke-linecap="butt"/>
<line x1="1973.00" y1="2221.20" x2="1973.00" y2="2229.20" stroke="#111" stroke-width="3" stroke-linecap="butt"/>
<line x1="2032.60" y1="2221.20" x2="2032.60" y2="2229.20" stroke="#111" stroke-width="3" stroke-linecap="butt"/>
<circle cx="1837.28" cy="2049.66" r="5.55" fill="#fff" stroke="#000" stroke-width="3"/>
<circle cx="1847.97" cy="2048.66" r="5.55" fill="#fff" stroke="#000" stroke-width="3"/>
<circle cx="1861.92" cy="2052.53" r="5.55" fill="#fff" stroke="#000" stroke-width="3"/>
<circle cx="1872.62" cy="2049.53" r="5.55" fill="#fff" stroke="#000" stroke-width="3"/>
<circle cx="1896.78" cy="2023.28" r="5.55" fill="#fff" stroke="#000" stroke-width="3"/>
<circle cx="1907.47" cy="2022.68" r="5.55" fill="#fff" stroke="#000" stroke-width="3"/>
<circle cx="1921.42" cy="2026.85" r="5.55" fill="#fff" stroke="#000" stroke-width="3"/>
<circle cx="1932.12" cy="2022.85" r="5.55" fill="#fff" stroke="#000" stroke-width="3"/>
<circle cx="1956.28" cy="2141.59" r="5.55" fill="#fff" stroke="#000" stroke-width="3"/>
<circle cx="1966.97" cy="2139.99" r="5.55" fill="#fff" stroke="#000" stroke-width="3"/>
<circle cx="1980.92" cy="2140.79" r="5.55" fill="#fff" stroke="#000" stroke-width="3"/>
<circle cx="1991.62" cy="2140.79" r="5.55" fill="#fff" stroke="#000" stroke-width="3"/>
<circle cx="2015.88" cy="2076.54" r="5.55" fill="#fff" stroke="#000" stroke-width="3"/>
<circle cx="2026.57" cy="2073.54" r="5.55" fill="#fff" stroke="#000" stroke-width="3"/>
<circle cx="2040.52" cy="2075.84" r="5.55" fill="#fff" stroke="#000" stroke-width="3"/>
<circle cx="2051.22" cy="2074.84" r="5.55" fill="#fff" stroke="#000" stroke-width="3"/>
<rect x="1833.00" y="1923.50" width="69.30" height="26.30" fill="#4a4a4a"/>
<rect x="1833.00" y="1957.00" width="69.30" height="26.30" fill="#0ba08b"/>
<text transform="translate(1913.00 1943.50) scale(0.922 1)" font-size="34.00" text-anchor="start" fill="#111" stroke="#111" stroke-width="0.35">o/e Control</text>
<text transform="translate(1913.00 1976.00) scale(0.922 1)" font-size="34.00" text-anchor="start" fill="#111" stroke="#111" stroke-width="0.35">o/e ALKBH7</text>
<text transform="translate(1718.00 2077.00) rotate(-90) scale(0.922 1)" font-size="34.00" text-anchor="middle" fill="#111" stroke="#111" stroke-width="0.35"><tspan dy="-0.00" font-size="34.00">mt-tRNA m</tspan><tspan dy="-12.24" font-size="24.82">1</tspan><tspan dy="12.24" font-size="34.00">G</tspan><tspan dy="8.50" font-size="24.82">37</tspan></text>
<text transform="translate(1760.50 2077.00) rotate(-90) scale(0.922 1)" font-size="34.00" text-anchor="middle" fill="#111" stroke="#111" stroke-width="0.35">Misincorporation (%)</text>
<text transform="translate(1858.00 2259.70) rotate(-45) scale(0.922 1)" font-size="34.00" text-anchor="end" fill="#111" stroke="#111" stroke-width="0.35">mt-Ala</text>
<text transform="translate(1917.50 2259.70) rotate(-45) scale(0.922 1)" font-size="34.00" text-anchor="end" fill="#111" stroke="#111" stroke-width="0.35">mt-Gln</text>
<text transform="translate(1977.00 2259.70) rotate(-45) scale(0.922 1)" font-size="34.00" text-anchor="end" fill="#111" stroke="#111" stroke-width="0.35">mt-Leu2</text>
<text transform="translate(2036.60 2259.70) rotate(-45) scale(0.922 1)" font-size="34.00" text-anchor="end" fill="#111" stroke="#111" stroke-width="0.35">mt-Pro</text>
</g>
</svg>
</body></html>
